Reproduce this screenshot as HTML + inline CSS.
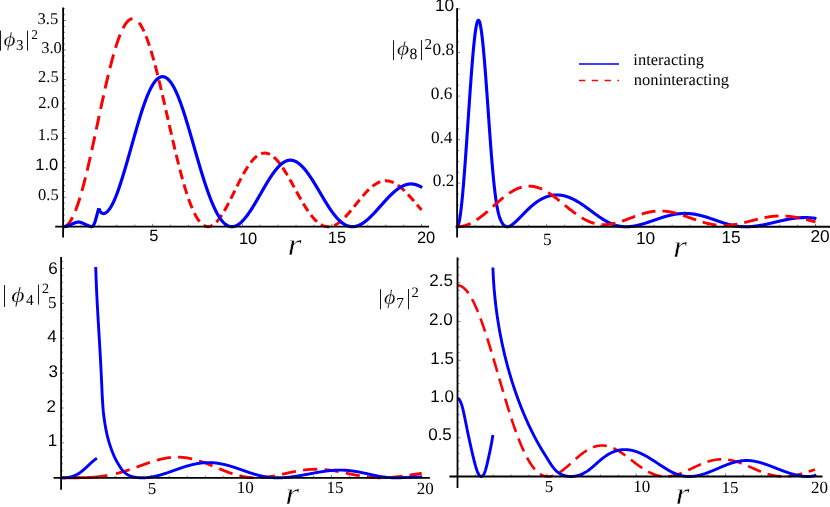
<!DOCTYPE html>
<html><head><meta charset="utf-8"><title>plot</title>
<style>
html,body{margin:0;padding:0;background:#fff;}
body{width:830px;height:507px;overflow:hidden;font-family:"Liberation Serif",serif;}
svg{display:block;will-change:transform;}
text{text-rendering:geometricPrecision;}
.s{font-family:"Liberation Sans",sans-serif;}
.t{font-family:"Liberation Serif",serif;}
.i{font-family:"Liberation Serif",serif;font-style:italic;}
</style></head><body>
<svg width="830" height="507" viewBox="0 0 830 507">

<g id="curves">
<path d="M63.10,226.70 L63.35,226.69 L63.59,226.67 L63.84,226.64 L64.09,226.59 L64.34,226.54 L64.58,226.46 L64.83,226.38 L65.08,226.28 L65.32,226.17 L65.57,226.04 L65.82,225.91 L66.07,225.76 L66.31,225.59 L66.56,225.42 L66.81,225.23 L67.05,225.02 L67.30,224.81 L67.55,224.58 L67.80,224.34 L68.04,224.09 L68.29,223.82 L68.54,223.54 L68.78,223.25 L69.03,222.94 L69.28,222.62 L69.53,222.29 L69.77,221.95 L70.02,221.60 L70.27,221.23 L70.51,220.85 L70.76,220.46 L71.01,220.05 L71.26,219.63 L71.50,219.21 L71.75,218.76 L72.00,218.31 L72.24,217.84 L72.49,217.37 L72.74,216.88 L72.99,216.38 L73.23,215.86 L73.48,215.34 L73.73,214.80 L73.97,214.25 L74.22,213.69 L74.47,213.12 L74.72,212.54 L74.96,211.95 L75.21,211.34 L75.46,210.72 L75.71,210.10 L75.95,209.46 L76.20,208.81 L76.45,208.15 L76.69,207.48 L76.94,206.80 L77.19,206.10 L77.44,205.40 L77.68,204.69 L77.93,203.96 L78.18,203.23 L78.42,202.49 L78.67,201.73 L78.92,200.97 L79.17,200.20 L79.41,199.41 L79.66,198.62 L79.91,197.82 L80.15,197.01 L80.40,196.18 L80.65,195.35 L80.90,194.51 L81.14,193.67 L81.39,192.81 L81.64,191.94 L81.88,191.07 L82.13,190.18 L82.38,189.29 L82.63,188.39 L82.87,187.48 L83.12,186.57 L83.37,185.64 L83.61,184.71 L83.86,183.77 L84.11,182.82 L84.36,181.87 L84.60,180.90 L84.85,179.93 L85.10,178.96 L85.34,177.97 L85.59,176.98 L85.84,175.98 L86.09,174.98 L86.33,173.97 L86.58,172.95 L86.83,171.92 L87.07,170.89 L87.32,169.86 L87.57,168.82 L87.82,167.77 L88.06,166.72 L88.31,165.66 L88.56,164.59 L88.80,163.52 L89.05,162.45 L89.30,161.37 L89.55,160.29 L89.79,159.20 L90.04,158.11 L90.29,157.01 L90.53,155.91 L90.78,154.80 L91.03,153.69 L91.28,152.58 L91.52,151.46 L91.77,150.34 L92.02,149.21 L92.26,148.09 L92.51,146.96 L92.76,145.82 L93.01,144.69 L93.25,143.55 L93.50,142.41 L93.75,141.26 L93.99,140.11 L94.24,138.97 L94.49,137.82 L94.74,136.66 L94.98,135.51 L95.23,134.35 L95.48,133.20 L95.72,132.04 L95.97,130.88 L96.22,129.72 L96.47,128.56 L96.71,127.40 L96.96,126.24 L97.21,125.07 L97.45,123.91 L97.70,122.75 L97.95,121.59 L98.20,120.42 L98.44,119.26 L98.69,118.10 L98.94,116.94 L99.18,115.78 L99.43,114.62 L99.68,113.46 L99.93,112.31 L100.17,111.15 L100.42,110.00 L100.67,108.85 L100.92,107.70 L101.16,106.55 L101.41,105.40 L101.66,104.26 L101.90,103.12 L102.15,101.98 L102.40,100.84 L102.65,99.71 L102.89,98.58 L103.14,97.45 L103.39,96.33 L103.63,95.21 L103.88,94.09 L104.13,92.98 L104.38,91.87 L104.62,90.76 L104.87,89.66 L105.12,88.56 L105.36,87.47 L105.61,86.38 L105.86,85.29 L106.11,84.22 L106.35,83.14 L106.60,82.07 L106.85,81.01 L107.09,79.95 L107.34,78.89 L107.59,77.85 L107.84,76.80 L108.08,75.77 L108.33,74.74 L108.58,73.71 L108.82,72.69 L109.07,71.68 L109.32,70.68 L109.57,69.68 L109.81,68.69 L110.06,67.70 L110.31,66.72 L110.55,65.75 L110.80,64.79 L111.05,63.83 L111.30,62.88 L111.54,61.94 L111.79,61.00 L112.04,60.07 L112.28,59.16 L112.53,58.24 L112.78,57.34 L113.03,56.45 L113.27,55.56 L113.52,54.68 L113.77,53.81 L114.01,52.95 L114.26,52.10 L114.51,51.25 L114.76,50.42 L115.00,49.59 L115.25,48.78 L115.50,47.97 L115.74,47.17 L115.99,46.38 L116.24,45.60 L116.49,44.84 L116.73,44.08 L116.98,43.33 L117.23,42.58 L117.47,41.85 L117.72,41.13 L117.97,40.42 L118.22,39.72 L118.46,39.03 L118.71,38.36 L118.96,37.69 L119.20,37.03 L119.45,36.38 L119.70,35.74 L119.95,35.12 L120.19,34.50 L120.44,33.90 L120.69,33.30 L120.93,32.72 L121.18,32.15 L121.43,31.59 L121.68,31.04 L121.92,30.50 L122.17,29.98 L122.42,29.46 L122.66,28.96 L122.91,28.47 L123.16,27.99 L123.41,27.52 L123.65,27.06 L123.90,26.62 L124.15,26.18 L124.39,25.76 L124.64,25.35 L124.89,24.95 L125.14,24.57 L125.38,24.19 L125.63,23.83 L125.88,23.48 L126.13,23.14 L126.37,22.82 L126.62,22.51 L126.87,22.20 L127.11,21.92 L127.36,21.64 L127.61,21.38 L127.86,21.12 L128.10,20.88 L128.35,20.66 L128.60,20.44 L128.84,20.24 L129.09,20.05 L129.34,19.87 L129.59,19.71 L129.83,19.56 L130.08,19.42 L130.33,19.29 L130.57,19.18 L130.82,19.07 L131.07,18.99 L131.32,18.91 L131.56,18.84 L131.81,18.79 L132.06,18.75 L132.30,18.73 L132.55,18.71 L132.80,18.71 L133.05,18.72 L133.29,18.74 L133.54,18.78 L133.79,18.83 L134.03,18.89 L134.28,18.96 L134.53,19.05 L134.78,19.15 L135.02,19.26 L135.27,19.38 L135.52,19.52 L135.76,19.66 L136.01,19.82 L136.26,20.00 L136.51,20.18 L136.75,20.38 L137.00,20.59" fill="none" stroke="#ff0000" stroke-width="3.0" stroke-dasharray="14 7" stroke-dashoffset="0"/>
<path d="M139.00,22.72 L139.23,23.02 L139.46,23.33 L139.69,23.65 L139.92,23.97 L140.15,24.31 L140.38,24.66 L140.62,25.02 L140.85,25.39 L141.08,25.76 L141.31,26.15 L141.54,26.55 L141.77,26.96 L142.00,27.38 L142.23,27.80 L142.46,28.24 L142.69,28.69 L142.92,29.14 L143.15,29.61 L143.38,30.08 L143.62,30.57 L143.85,31.06 L144.08,31.57 L144.31,32.08 L144.54,32.60 L144.77,33.13 L145.00,33.67 L145.23,34.22 L145.46,34.78 L145.69,35.35 L145.92,35.92 L146.15,36.51 L146.38,37.10 L146.62,37.70 L146.85,38.32 L147.08,38.93 L147.31,39.56 L147.54,40.20 L147.77,40.84 L148.00,41.49 L148.23,42.15 L148.46,42.82 L148.69,43.50 L148.92,44.18 L149.15,44.88 L149.38,45.58 L149.62,46.28 L149.85,47.00 L150.08,47.72 L150.31,48.45 L150.54,49.19 L150.77,49.93 L151.00,50.68 L151.23,51.44 L151.46,52.21 L151.69,52.98 L151.92,53.76 L152.15,54.55 L152.38,55.34 L152.62,56.14 L152.85,56.95 L153.08,57.76 L153.31,58.58 L153.54,59.40 L153.77,60.23 L154.00,61.07 L154.23,61.91 L154.46,62.76 L154.69,63.62 L154.92,64.48 L155.15,65.34 L155.38,66.21 L155.62,67.09 L155.85,67.97 L156.08,68.86 L156.31,69.75 L156.54,70.65 L156.77,71.55 L157.00,72.46 L157.23,73.37 L157.46,74.29 L157.69,75.21 L157.92,76.13 L158.15,77.06 L158.38,78.00 L158.62,78.94 L158.85,79.88 L159.08,80.82 L159.31,81.77 L159.54,82.73 L159.77,83.68 L160.00,84.64 L160.23,85.61 L160.46,86.58 L160.69,87.55 L160.92,88.52 L161.15,89.50 L161.38,90.48 L161.62,91.46 L161.85,92.44 L162.08,93.43 L162.31,94.42 L162.54,95.42 L162.77,96.41 L163.00,97.41 L163.23,98.41 L163.46,99.41 L163.69,100.41 L163.92,101.42 L164.15,102.42 L164.38,103.43 L164.62,104.44 L164.85,105.45 L165.08,106.46 L165.31,107.48 L165.54,108.49 L165.77,109.51 L166.00,110.52 L166.23,111.54 L166.46,112.56 L166.69,113.58 L166.92,114.60 L167.15,115.62 L167.38,116.64 L167.62,117.65 L167.85,118.67 L168.08,119.69 L168.31,120.71 L168.54,121.73 L168.77,122.75 L169.00,123.77 L169.23,124.79 L169.46,125.80 L169.69,126.82 L169.92,127.84 L170.15,128.85 L170.38,129.86 L170.62,130.88 L170.85,131.89 L171.08,132.90 L171.31,133.91 L171.54,134.91 L171.77,135.92 L172.00,136.92 L172.23,137.92 L172.46,138.92 L172.69,139.92 L172.92,140.92 L173.15,141.91 L173.38,142.90 L173.62,143.89 L173.85,144.87 L174.08,145.86 L174.31,146.84 L174.54,147.82 L174.77,148.79 L175.00,149.76 L175.23,150.73 L175.46,151.70 L175.69,152.66 L175.92,153.62 L176.15,154.58 L176.38,155.53 L176.62,156.48 L176.85,157.42 L177.08,158.36 L177.31,159.30 L177.54,160.24 L177.77,161.17 L178.00,162.09 L178.23,163.01 L178.46,163.93 L178.69,164.84 L178.92,165.75 L179.15,166.66 L179.38,167.56 L179.62,168.45 L179.85,169.34 L180.08,170.23 L180.31,171.11 L180.54,171.98 L180.77,172.85 L181.00,173.72 L181.23,174.58 L181.46,175.43 L181.69,176.28 L181.92,177.13 L182.15,177.97 L182.38,178.80 L182.62,179.63 L182.85,180.45 L183.08,181.26 L183.31,182.08 L183.54,182.88 L183.77,183.68 L184.00,184.47 L184.23,185.26 L184.46,186.04 L184.69,186.81 L184.92,187.58 L185.15,188.34 L185.38,189.10 L185.62,189.85 L185.85,190.59 L186.08,191.33 L186.31,192.06 L186.54,192.78 L186.77,193.50 L187.00,194.20 L187.23,194.91 L187.46,195.60 L187.69,196.29 L187.92,196.97 L188.15,197.65 L188.38,198.32 L188.62,198.98 L188.85,199.63 L189.08,200.28 L189.31,200.92 L189.54,201.55 L189.77,202.17 L190.00,202.79 L190.23,203.40 L190.46,204.01 L190.69,204.60 L190.92,205.19 L191.15,205.77 L191.38,206.34 L191.62,206.91 L191.85,207.46 L192.08,208.01 L192.31,208.56 L192.54,209.09 L192.77,209.62 L193.00,210.14 L193.23,210.65 L193.46,211.15 L193.69,211.65 L193.92,212.13 L194.15,212.61 L194.38,213.09 L194.62,213.55 L194.85,214.01 L195.08,214.45 L195.31,214.89 L195.54,215.33 L195.77,215.75 L196.00,216.17 L196.23,216.57 L196.46,216.97 L196.69,217.36 L196.92,217.75 L197.15,218.12 L197.38,218.49 L197.62,218.85 L197.85,219.20 L198.08,219.55 L198.31,219.88 L198.54,220.21 L198.77,220.53 L199.00,220.84 L199.23,221.14 L199.46,221.43 L199.69,221.72 L199.92,222.00 L200.15,222.27 L200.38,222.53 L200.62,222.78 L200.85,223.03 L201.08,223.27 L201.31,223.50 L201.54,223.72 L201.77,223.93 L202.00,224.14 L202.23,224.33 L202.46,224.52 L202.69,224.70 L202.92,224.88 L203.15,225.04 L203.38,225.20 L203.62,225.35 L203.85,225.49 L204.08,225.62 L204.31,225.75 L204.54,225.87 L204.77,225.98 L205.00,226.08 L205.23,226.17 L205.46,226.26 L205.69,226.34 L205.92,226.41 L206.15,226.47 L206.38,226.52 L206.62,226.57 L206.85,226.61 L207.08,226.65 L207.31,226.67 L207.54,226.69 L207.77,226.70 L208.00,226.70" fill="none" stroke="#ff0000" stroke-width="3.0" stroke-dasharray="10 5.3" stroke-dashoffset="0"/>
<path d="M208.00,226.70 L208.71,226.66 L209.43,226.55 L210.14,226.37 L210.86,226.13 L211.57,225.82 L212.28,225.44 L213.00,225.00 L213.71,224.50 L214.43,223.94 L215.14,223.31 L215.85,222.64 L216.57,221.90 L217.28,221.12 L218.00,220.28 L218.71,219.39 L219.42,218.45 L220.14,217.47 L220.85,216.45 L221.57,215.38 L222.28,214.27 L222.99,213.13 L223.71,211.95 L224.42,210.73 L225.14,209.49 L225.85,208.21 L226.57,206.91 L227.28,205.59 L227.99,204.24 L228.71,202.87 L229.42,201.49 L230.14,200.09 L230.85,198.67 L231.56,197.25 L232.28,195.82 L232.99,194.38 L233.71,192.93 L234.42,191.49 L235.13,190.04 L235.85,188.60 L236.56,187.16 L237.28,185.73 L237.99,184.30 L238.70,182.89 L239.42,181.49 L240.13,180.11 L240.85,178.74 L241.56,177.39 L242.27,176.07 L242.99,174.76 L243.70,173.48 L244.42,172.23 L245.13,171.00 L245.84,169.80 L246.56,168.64 L247.27,167.50 L247.99,166.41 L248.70,165.34 L249.41,164.32 L250.13,163.33 L250.84,162.38 L251.56,161.47 L252.27,160.61 L252.98,159.79 L253.70,159.01 L254.41,158.28 L255.13,157.59 L255.84,156.95 L256.56,156.36 L257.27,155.81 L257.98,155.32 L258.70,154.87 L259.41,154.47 L260.13,154.13 L260.84,153.83 L261.55,153.58 L262.27,153.39 L262.98,153.24 L263.70,153.15 L264.41,153.10 L265.12,153.11 L265.84,153.17 L266.55,153.28 L267.27,153.44 L267.98,153.65 L268.69,153.90 L269.41,154.21 L270.12,154.56 L270.84,154.96 L271.55,155.41 L272.26,155.91 L272.98,156.44 L273.69,157.03 L274.41,157.66 L275.12,158.32 L275.83,159.04 L276.55,159.79 L277.26,160.58 L277.98,161.41 L278.69,162.27 L279.40,163.17 L280.12,164.11 L280.83,165.08 L281.55,166.08 L282.26,167.10 L282.97,168.16 L283.69,169.25 L284.40,170.36 L285.12,171.50 L285.83,172.65 L286.55,173.83 L287.26,175.03 L287.97,176.25 L288.69,177.48 L289.40,178.73 L290.12,179.99 L290.83,181.26 L291.54,182.54 L292.26,183.83 L292.97,185.13 L293.69,186.43 L294.40,187.73 L295.11,189.03 L295.83,190.34 L296.54,191.64 L297.26,192.94 L297.97,194.23 L298.68,195.51 L299.40,196.79 L300.11,198.06 L300.83,199.31 L301.54,200.56 L302.25,201.78 L302.97,202.99 L303.68,204.19 L304.40,205.36 L305.11,206.52 L305.82,207.65 L306.54,208.76 L307.25,209.84 L307.97,210.90 L308.68,211.94 L309.39,212.94 L310.11,213.92 L310.82,214.86 L311.54,215.78 L312.25,216.66 L312.96,217.51 L313.68,218.33 L314.39,219.11 L315.11,219.86 L315.82,220.57 L316.54,221.24 L317.25,221.88 L317.96,222.48 L318.68,223.04 L319.39,223.56 L320.11,224.04 L320.82,224.48 L321.53,224.88 L322.25,225.25 L322.96,225.57 L323.68,225.85 L324.39,226.09 L325.10,226.29 L325.82,226.45 L326.53,226.57 L327.25,226.65 L327.96,226.69 L328.67,226.70 L329.39,226.66 L330.10,226.58 L330.82,226.46 L331.53,226.31 L332.24,226.12 L332.96,225.89 L333.67,225.62 L334.39,225.32 L335.10,224.99 L335.81,224.62 L336.53,224.22 L337.24,223.78 L337.96,223.31 L338.67,222.81 L339.38,222.28 L340.10,221.73 L340.81,221.14 L341.53,220.53 L342.24,219.89 L342.95,219.23 L343.67,218.55 L344.38,217.84 L345.10,217.11 L345.81,216.36 L346.53,215.59 L347.24,214.81 L347.95,214.01 L348.67,213.19 L349.38,212.36 L350.10,211.52 L350.81,210.67 L351.52,209.81 L352.24,208.93 L352.95,208.06 L353.67,207.17 L354.38,206.29 L355.09,205.40 L355.81,204.51 L356.52,203.62 L357.24,202.73 L357.95,201.84 L358.66,200.95 L359.38,200.07 L360.09,199.20 L360.81,198.34 L361.52,197.48 L362.23,196.64 L362.95,195.80 L363.66,194.98 L364.38,194.17 L365.09,193.38 L365.80,192.60 L366.52,191.84 L367.23,191.10 L367.95,190.38 L368.66,189.67 L369.37,188.99 L370.09,188.33 L370.80,187.70 L371.52,187.08 L372.23,186.50 L372.94,185.93 L373.66,185.40 L374.37,184.89 L375.09,184.41 L375.80,183.95 L376.52,183.53 L377.23,183.13 L377.94,182.77 L378.66,182.43 L379.37,182.13 L380.09,181.85 L380.80,181.61 L381.51,181.40 L382.23,181.22 L382.94,181.08 L383.66,180.96 L384.37,180.88 L385.08,180.83 L385.80,180.81 L386.51,180.83 L387.23,180.88 L387.94,180.96 L388.65,181.07 L389.37,181.21 L390.08,181.38 L390.80,181.59 L391.51,181.82 L392.22,182.09 L392.94,182.39 L393.65,182.71 L394.37,183.07 L395.08,183.45 L395.79,183.86 L396.51,184.30 L397.22,184.76 L397.94,185.25 L398.65,185.77 L399.36,186.31 L400.08,186.87 L400.79,187.46 L401.51,188.06 L402.22,188.69 L402.93,189.34 L403.65,190.01 L404.36,190.70 L405.08,191.40 L405.79,192.12 L406.51,192.85 L407.22,193.60 L407.93,194.36 L408.65,195.14 L409.36,195.92 L410.08,196.72 L410.79,197.52 L411.50,198.33 L412.22,199.15 L412.93,199.97 L413.65,200.80 L414.36,201.63 L415.07,202.47 L415.79,203.30 L416.50,204.14 L417.22,204.97 L417.93,205.80 L418.64,206.63 L419.36,207.45 L420.07,208.27 L420.79,209.08 L421.50,209.88" fill="none" stroke="#ff0000" stroke-width="3.0" stroke-dasharray="9 4.8" stroke-dashoffset="4"/>
<path d="M63.10,226.70 L63.50,226.69 L63.90,226.68 L64.30,226.65 L64.70,226.61 L65.10,226.56 L65.50,226.50 L65.90,226.43 L66.30,226.34 L66.70,226.24 L67.10,226.13 L67.50,226.02 L67.90,225.88 L68.30,225.74 L68.70,225.59 L69.10,225.44 L69.50,225.27 L69.90,225.10 L70.30,224.92 L70.70,224.73 L71.10,224.55 L71.50,224.36 L71.90,224.17 L72.30,223.98 L72.70,223.79 L73.10,223.60 L73.50,223.42 L73.90,223.24 L74.30,223.07 L74.70,222.91 L75.10,222.76 L75.50,222.62 L75.90,222.50 L76.30,222.39 L76.70,222.29 L77.10,222.21 L77.50,222.15 L77.90,222.11 L78.30,222.09 L78.70,222.09 L79.10,222.11 L79.50,222.15 L79.90,222.22 L80.30,222.31 L80.70,222.42 L81.10,222.54 L81.50,222.68 L81.90,222.84 L82.30,223.00 L82.70,223.18 L83.10,223.36 L83.50,223.55 L83.90,223.74 L84.30,223.93 L84.70,224.11 L85.10,224.30 L85.50,224.48 L85.90,224.66 L86.30,224.83 L86.70,224.99 L87.10,225.16 L87.50,225.32 L87.90,225.49 L88.30,225.66 L88.70,225.83 L89.10,226.01 L89.50,226.18 L89.90,226.34 L90.30,226.49 L90.70,226.60 L91.10,226.68 L91.50,226.70 L91.90,226.63 L92.30,226.47 L92.70,226.19 L93.10,225.77 L93.50,225.21 L93.90,224.50 L94.30,223.64 L94.70,222.63 L95.10,221.47 L95.50,220.20 L95.90,218.82 L96.30,217.36 L96.70,215.85 L97.10,214.33 L97.50,212.82 L97.90,211.38 L98.30,210.03 L98.70,208.83 L98.90,208.30" fill="none" stroke="#0000ff" stroke-width="3.2" stroke-linejoin="round"/>
<path d="M98.90,208.53 L99.30,209.54 L99.70,210.41 L100.10,211.14 L100.50,211.75 L100.90,212.26 L101.30,212.67 L101.70,212.99 L102.10,213.23 L102.50,213.40 L102.90,213.51 L103.30,213.55 L103.70,213.54 L104.10,213.48 L104.50,213.36 L104.90,213.21 L105.30,213.01 L105.70,212.77 L106.10,212.50 L106.50,212.20 L106.90,211.86 L107.30,211.50 L107.70,211.10 L108.10,210.68 L108.50,210.23 L108.90,209.74 L109.30,209.23 L109.70,208.69 L110.10,208.11 L110.50,207.51 L110.90,206.88 L111.30,206.21 L111.70,205.52 L112.10,204.80 L112.50,204.05 L112.90,203.26 L113.30,202.45 L113.70,201.61 L114.10,200.74 L114.50,199.84 L114.90,198.92 L115.30,197.97 L115.70,196.99 L116.10,195.98 L116.50,194.95 L116.90,193.90 L117.30,192.82 L117.70,191.72 L118.10,190.60 L118.50,189.46 L118.90,188.30 L119.30,187.12 L119.70,185.93 L120.10,184.72 L120.50,183.50 L120.90,182.26 L121.30,181.02 L121.70,179.76 L122.10,178.49 L122.50,177.21 L122.90,175.92 L123.30,174.61 L123.70,173.30 L124.10,171.98 L124.50,170.64 L124.90,169.30 L125.30,167.95 L125.70,166.59 L126.10,165.23 L126.50,163.86 L126.90,162.48 L127.30,161.09 L127.70,159.70 L128.10,158.31 L128.50,156.91 L128.90,155.50 L129.30,154.09 L129.70,152.68 L130.10,151.27 L130.50,149.85 L130.90,148.43 L131.30,147.01 L131.70,145.59 L132.10,144.17 L132.50,142.75 L132.90,141.33 L133.30,139.92 L133.70,138.50 L134.10,137.09 L134.50,135.68 L134.90,134.28 L135.30,132.88 L135.70,131.48 L136.10,130.10 L136.50,128.71 L136.90,127.34 L137.30,125.97 L137.70,124.61 L138.10,123.26 L138.50,121.91 L138.90,120.58 L139.30,119.26 L139.70,117.95 L140.10,116.65 L140.50,115.36 L140.90,114.08 L141.30,112.82 L141.70,111.57 L142.10,110.34 L142.50,109.12 L142.90,107.92 L143.30,106.74 L143.70,105.57 L144.10,104.42 L144.50,103.28 L144.90,102.17 L145.30,101.08 L145.70,100.00 L146.10,98.95 L146.50,97.92 L146.90,96.91 L147.30,95.92 L147.70,94.95 L148.10,94.01 L148.50,93.09 L148.90,92.19 L149.30,91.31 L149.70,90.46 L150.10,89.63 L150.50,88.83 L150.90,88.05 L151.30,87.29 L151.70,86.56 L152.10,85.86 L152.50,85.17 L152.90,84.52 L153.30,83.89 L153.70,83.28 L154.10,82.70 L154.50,82.15 L154.90,81.62 L155.30,81.12 L155.70,80.64 L156.10,80.19 L156.50,79.77 L156.90,79.38 L157.30,79.01 L157.70,78.66 L158.10,78.35 L158.50,78.06 L158.90,77.80 L159.30,77.56 L159.70,77.35 L160.10,77.17 L160.50,77.02 L160.90,76.89 L161.30,76.79 L161.70,76.72 L162.10,76.68 L162.50,76.66 L162.90,76.67 L163.30,76.71 L163.70,76.77 L164.10,76.87 L164.50,76.98 L164.90,77.13 L165.30,77.30 L165.70,77.50 L166.10,77.73 L166.50,77.99 L166.90,78.27 L167.30,78.57 L167.70,78.91 L168.10,79.27 L168.50,79.66 L168.90,80.07 L169.30,80.51 L169.70,80.98 L170.10,81.47 L170.50,81.99 L170.90,82.53 L171.30,83.10 L171.70,83.69 L172.10,84.31 L172.50,84.96 L172.90,85.62 L173.30,86.32 L173.70,87.04 L174.10,87.78 L174.50,88.54 L174.90,89.33 L175.30,90.15 L175.70,90.98 L176.10,91.84 L176.50,92.72 L176.90,93.63 L177.30,94.55 L177.70,95.50 L178.10,96.47 L178.50,97.47 L178.90,98.48 L179.30,99.51 L179.70,100.56 L180.10,101.63 L180.50,102.72 L180.90,103.83 L181.30,104.95 L181.70,106.09 L182.10,107.25 L182.50,108.43 L182.90,109.61 L183.30,110.82 L183.70,112.04 L184.10,113.27 L184.50,114.51 L184.90,115.77 L185.30,117.04 L185.70,118.32 L186.10,119.61 L186.50,120.91 L186.90,122.22 L187.30,123.54 L187.70,124.87 L188.10,126.21 L188.50,127.56 L188.90,128.91 L189.30,130.27 L189.70,131.63 L190.10,133.01 L190.50,134.38 L190.90,135.76 L191.30,137.14 L191.70,138.53 L192.10,139.92 L192.50,141.31 L192.90,142.71 L193.30,144.10 L193.70,145.50 L194.10,146.90 L194.50,148.29 L194.90,149.69 L195.30,151.08 L195.70,152.48 L196.10,153.87 L196.50,155.26 L196.90,156.64 L197.30,158.02 L197.70,159.40 L198.10,160.77 L198.50,162.14 L198.90,163.50 L199.30,164.86 L199.70,166.21 L200.10,167.55 L200.50,168.89 L200.90,170.21 L201.30,171.53 L201.70,172.85 L202.10,174.15 L202.50,175.44 L202.90,176.73 L203.30,178.00 L203.70,179.26 L204.10,180.52 L204.50,181.76 L204.90,182.99 L205.30,184.20 L205.70,185.41 L206.10,186.60 L206.50,187.78 L206.90,188.95 L207.30,190.10 L207.70,191.24 L208.10,192.36 L208.50,193.47 L208.90,194.57 L209.30,195.65 L209.70,196.71 L210.10,197.76 L210.50,198.79 L210.90,199.81 L211.30,200.81 L211.70,201.79 L212.10,202.76 L212.50,203.71 L212.90,204.64 L213.30,205.55 L213.70,206.45 L214.10,207.33 L214.50,208.19 L214.90,209.03 L215.30,209.86 L215.70,210.66 L216.10,211.45 L216.50,212.21 L216.90,212.96 L217.30,213.69 L217.70,214.40 L218.10,215.09 L218.50,215.76 L218.90,216.41 L219.30,217.04 L219.70,217.65 L220.10,218.24 L220.50,218.81 L220.90,219.36 L221.30,219.89 L221.70,220.41 L222.10,220.90 L222.50,221.37 L222.90,221.82 L223.30,222.25 L223.70,222.66 L224.10,223.05 L224.50,223.42 L224.90,223.77 L225.30,224.10 L225.70,224.40 L226.10,224.69 L226.50,224.96 L226.90,225.21 L227.30,225.44 L227.70,225.65 L228.10,225.84 L228.50,226.02 L228.90,226.17 L229.30,226.30 L229.70,226.41 L230.10,226.51 L230.50,226.58 L230.90,226.64 L231.30,226.68 L231.70,226.70 L232.10,226.70 L232.50,226.68 L232.90,226.65 L233.30,226.60 L233.70,226.53 L234.10,226.44 L234.50,226.33 L234.90,226.21 L235.30,226.08 L235.70,225.92 L236.10,225.75 L236.50,225.56 L236.90,225.36 L237.30,225.14 L237.70,224.91 L238.10,224.66 L238.50,224.40 L238.90,224.12 L239.30,223.82 L239.70,223.52 L240.10,223.19 L240.50,222.86 L240.90,222.51 L241.30,222.15 L241.70,221.77 L242.10,221.38 L242.50,220.98 L242.90,220.56 L243.30,220.14 L243.70,219.70 L244.10,219.25 L244.50,218.79 L244.90,218.31 L245.30,217.83 L245.70,217.33 L246.10,216.83 L246.50,216.31 L246.90,215.79 L247.30,215.25 L247.70,214.71 L248.10,214.15 L248.50,213.59 L248.90,213.02 L249.30,212.44 L249.70,211.85 L250.10,211.26 L250.50,210.65 L250.90,210.04 L251.30,209.43 L251.70,208.80 L252.10,208.17 L252.50,207.54 L252.90,206.90 L253.30,206.25 L253.70,205.60 L254.10,204.94 L254.50,204.28 L254.90,203.61 L255.30,202.94 L255.70,202.26 L256.10,201.58 L256.50,200.90 L256.90,200.22 L257.30,199.53 L257.70,198.84 L258.10,198.15 L258.50,197.46 L258.90,196.76 L259.30,196.07 L259.70,195.37 L260.10,194.67 L260.50,193.97 L260.90,193.27 L261.30,192.58 L261.70,191.88 L262.10,191.18 L262.50,190.49 L262.90,189.79 L263.30,189.10 L263.70,188.41 L264.10,187.72 L264.50,187.03 L264.90,186.35 L265.30,185.67 L265.70,184.99 L266.10,184.32 L266.50,183.65 L266.90,182.99 L267.30,182.33 L267.70,181.67 L268.10,181.02 L268.50,180.38 L268.90,179.74 L269.30,179.10 L269.70,178.47 L270.10,177.85 L270.50,177.24 L270.90,176.63 L271.30,176.03 L271.70,175.44 L272.10,174.85 L272.50,174.27 L272.90,173.71 L273.30,173.14 L273.70,172.59 L274.10,172.05 L274.50,171.52 L274.90,170.99 L275.30,170.48 L275.70,169.97 L276.10,169.48 L276.50,168.99 L276.90,168.52 L277.30,168.06 L277.70,167.61 L278.10,167.17 L278.50,166.74 L278.90,166.32 L279.30,165.92 L279.70,165.52 L280.10,165.14 L280.50,164.78 L280.90,164.42 L281.30,164.08 L281.70,163.75 L282.10,163.43 L282.50,163.13 L282.90,162.84 L283.30,162.57 L283.70,162.31 L284.10,162.06 L284.50,161.83 L284.90,161.61 L285.30,161.41 L285.70,161.22 L286.10,161.05 L286.50,160.89 L286.90,160.75 L287.30,160.62 L287.70,160.51 L288.10,160.41 L288.50,160.33 L288.90,160.27 L289.30,160.22 L289.70,160.18 L290.10,160.17 L290.50,160.16 L290.90,160.18 L291.30,160.21 L291.70,160.25 L292.10,160.31 L292.50,160.39 L292.90,160.48 L293.30,160.58 L293.70,160.71 L294.10,160.84 L294.50,160.99 L294.90,161.16 L295.30,161.34 L295.70,161.53 L296.10,161.74 L296.50,161.96 L296.90,162.19 L297.30,162.44 L297.70,162.71 L298.10,162.98 L298.50,163.27 L298.90,163.57 L299.30,163.89 L299.70,164.22 L300.10,164.56 L300.50,164.91 L300.90,165.28 L301.30,165.65 L301.70,166.04 L302.10,166.44 L302.50,166.85 L302.90,167.28 L303.30,167.71 L303.70,168.15 L304.10,168.61 L304.50,169.08 L304.90,169.55 L305.30,170.04 L305.70,170.53 L306.10,171.04 L306.50,171.55 L306.90,172.07 L307.30,172.60 L307.70,173.14 L308.10,173.69 L308.50,174.25 L308.90,174.81 L309.30,175.38 L309.70,175.96 L310.10,176.55 L310.50,177.14 L310.90,177.74 L311.30,178.34 L311.70,178.95 L312.10,179.57 L312.50,180.19 L312.90,180.82 L313.30,181.45 L313.70,182.09 L314.10,182.73 L314.50,183.38 L314.90,184.03 L315.30,184.68 L315.70,185.34 L316.10,186.00 L316.50,186.67 L316.90,187.33 L317.30,188.00 L317.70,188.67 L318.10,189.35 L318.50,190.02 L318.90,190.70 L319.30,191.37 L319.70,192.05 L320.10,192.73 L320.50,193.41 L320.90,194.08 L321.30,194.76 L321.70,195.44 L322.10,196.12 L322.50,196.79 L322.90,197.47 L323.30,198.14 L323.70,198.81 L324.10,199.47 L324.50,200.14 L324.90,200.80 L325.30,201.46 L325.70,202.11 L326.10,202.76 L326.50,203.41 L326.90,204.05 L327.30,204.69 L327.70,205.32 L328.10,205.94 L328.50,206.56 L328.90,207.18 L329.30,207.79 L329.70,208.39 L330.10,208.99 L330.50,209.58 L330.90,210.16 L331.30,210.73 L331.70,211.30 L332.10,211.86 L332.50,212.41 L332.90,212.95 L333.30,213.49 L333.70,214.01 L334.10,214.53 L334.50,215.04 L334.90,215.54 L335.30,216.03 L335.70,216.51 L336.10,216.98 L336.50,217.44 L336.90,217.89 L337.30,218.33 L337.70,218.77 L338.10,219.19 L338.50,219.60 L338.90,219.99 L339.30,220.38 L339.70,220.76 L340.10,221.13 L340.50,221.48 L340.90,221.83 L341.30,222.16 L341.70,222.48 L342.10,222.79 L342.50,223.09 L342.90,223.38 L343.30,223.65 L343.70,223.91 L344.10,224.17 L344.50,224.40 L344.90,224.63 L345.30,224.85 L345.70,225.05 L346.10,225.24 L346.50,225.42 L346.90,225.59 L347.30,225.75 L347.70,225.89 L348.10,226.02 L348.50,226.15 L348.90,226.25 L349.30,226.35 L349.70,226.43 L350.10,226.51 L350.50,226.57 L350.90,226.62 L351.30,226.66 L351.70,226.68 L352.10,226.70 L352.50,226.70 L352.90,226.69 L353.30,226.67 L353.70,226.64 L354.10,226.60 L354.50,226.55 L354.90,226.48 L355.30,226.41 L355.70,226.32 L356.10,226.23 L356.50,226.12 L356.90,226.01 L357.30,225.88 L357.70,225.74 L358.10,225.60 L358.50,225.44 L358.90,225.27 L359.30,225.10 L359.70,224.91 L360.10,224.71 L360.50,224.51 L360.90,224.30 L361.30,224.07 L361.70,223.84 L362.10,223.60 L362.50,223.35 L362.90,223.10 L363.30,222.83 L363.70,222.56 L364.10,222.28 L364.50,221.99 L364.90,221.69 L365.30,221.39 L365.70,221.08 L366.10,220.76 L366.50,220.43 L366.90,220.10 L367.30,219.76 L367.70,219.42 L368.10,219.06 L368.50,218.71 L368.90,218.34 L369.30,217.97 L369.70,217.60 L370.10,217.22 L370.50,216.83 L370.90,216.44 L371.30,216.05 L371.70,215.65 L372.10,215.24 L372.50,214.83 L372.90,214.42 L373.30,214.00 L373.70,213.58 L374.10,213.16 L374.50,212.73 L374.90,212.30 L375.30,211.87 L375.70,211.44 L376.10,211.00 L376.50,210.56 L376.90,210.12 L377.30,209.67 L377.70,209.23 L378.10,208.78 L378.50,208.33 L378.90,207.88 L379.30,207.43 L379.70,206.98 L380.10,206.53 L380.50,206.08 L380.90,205.63 L381.30,205.17 L381.70,204.72 L382.10,204.27 L382.50,203.82 L382.90,203.38 L383.30,202.93 L383.70,202.48 L384.10,202.04 L384.50,201.60 L384.90,201.16 L385.30,200.72 L385.70,200.28 L386.10,199.85 L386.50,199.42 L386.90,198.99 L387.30,198.56 L387.70,198.14 L388.10,197.72 L388.50,197.31 L388.90,196.89 L389.30,196.49 L389.70,196.08 L390.10,195.68 L390.50,195.29 L390.90,194.90 L391.30,194.51 L391.70,194.13 L392.10,193.75 L392.50,193.38 L392.90,193.01 L393.30,192.65 L393.70,192.29 L394.10,191.94 L394.50,191.60 L394.90,191.26 L395.30,190.93 L395.70,190.60 L396.10,190.28 L396.50,189.97 L396.90,189.66 L397.30,189.36 L397.70,189.07 L398.10,188.78 L398.50,188.50 L398.90,188.23 L399.30,187.97 L399.70,187.71 L400.10,187.46 L400.50,187.22 L400.90,186.99 L401.30,186.76 L401.70,186.54 L402.10,186.33 L402.50,186.13 L402.90,185.94 L403.30,185.75 L403.70,185.58 L404.10,185.41 L404.50,185.25 L404.90,185.10 L405.30,184.96 L405.70,184.83 L406.10,184.71 L406.50,184.59 L406.90,184.49 L407.30,184.39 L407.70,184.31 L408.10,184.23 L408.50,184.16 L408.90,184.11 L409.30,184.06 L409.70,184.02 L410.10,183.99 L410.50,183.97 L410.90,183.96 L411.30,183.96 L411.70,183.97 L412.10,183.99 L412.50,184.02 L412.90,184.06 L413.30,184.11 L413.70,184.17 L414.10,184.24 L414.50,184.32 L414.90,184.41 L415.30,184.51 L415.70,184.62 L416.10,184.74 L416.50,184.86 L416.90,185.00 L417.30,185.15 L417.70,185.31 L418.10,185.48 L418.50,185.66 L418.90,185.85 L419.30,186.04 L419.70,186.25 L420.10,186.47 L420.50,186.70 L420.90,186.93 L421.30,187.18 L421.70,187.43 L422.10,187.70 L422.10,187.70" fill="none" stroke="#0000ff" stroke-width="3.2" stroke-linejoin="round"/>
<path d="M457.10,226.75 L457.50,226.54 L457.90,225.96 L458.30,225.00 L458.70,223.69 L459.10,222.03 L459.50,220.03 L459.90,217.70 L460.30,215.05 L460.70,212.10 L461.10,208.87 L461.50,205.35 L461.90,201.57 L462.30,197.54 L462.70,193.27 L463.10,188.78 L463.50,184.09 L463.90,179.20 L464.30,174.14 L464.70,168.92 L465.10,163.56 L465.50,158.07 L465.90,152.48 L466.30,146.79 L466.70,141.02 L467.10,135.20 L467.50,129.34 L467.90,123.45 L468.30,117.56 L468.70,111.68 L469.10,105.83 L469.50,100.03 L469.90,94.29 L470.30,88.64 L470.70,83.08 L471.10,77.64 L471.50,72.34 L471.90,67.19 L472.30,62.21 L472.70,57.42 L473.10,52.85 L473.50,48.50 L473.90,44.40 L474.30,40.57 L474.70,37.02 L475.10,33.76 L475.50,30.83 L475.90,28.22 L476.30,25.96 L476.70,24.06 L477.10,22.53 L477.50,21.38 L477.90,20.63 L478.30,20.29 L478.70,20.36 L479.10,20.85 L479.50,21.74 L479.90,23.03 L480.30,24.71 L480.70,26.75 L481.10,29.15 L481.50,31.88 L481.90,34.93 L482.30,38.29 L482.70,41.94 L483.10,45.85 L483.50,50.02 L483.90,54.41 L484.30,59.02 L484.70,63.82 L485.10,68.80 L485.50,73.93 L485.90,79.19 L486.30,84.57 L486.70,90.05 L487.10,95.60 L487.50,101.21 L487.90,106.86 L488.30,112.53 L488.70,118.20 L489.10,123.85 L489.50,129.46 L489.90,135.00 L490.30,140.45 L490.70,145.79 L491.10,151.00 L491.50,156.08 L491.90,161.00 L492.30,165.74 L492.70,170.31 L493.10,174.69 L493.50,178.86 L493.90,182.84 L494.30,186.60 L494.70,190.15 L495.10,193.48 L495.50,196.60 L495.90,199.51 L496.30,202.21 L496.70,204.69 L497.10,206.98 L497.50,209.07 L497.90,210.97 L498.30,212.69 L498.70,214.25 L499.10,215.67 L499.50,216.96 L499.90,218.13 L500.30,219.20 L500.70,220.16 L501.10,221.03 L501.50,221.82 L501.90,222.54 L502.30,223.19 L502.70,223.77 L503.10,224.30 L503.50,224.77 L503.90,225.18 L504.30,225.55 L504.70,225.87 L505.10,226.13 L505.50,226.35 L505.90,226.52 L506.30,226.64 L506.70,226.72 L507.10,226.75 L507.50,226.74 L507.90,226.70 L508.30,226.62 L508.70,226.51 L509.10,226.38 L509.50,226.22 L509.90,226.04 L510.30,225.83 L510.70,225.61 L511.10,225.37 L511.50,225.11 L511.90,224.84 L512.30,224.55 L512.70,224.26 L513.10,223.95 L513.50,223.63 L513.90,223.30 L514.30,222.97 L514.70,222.62 L515.10,222.27 L515.50,221.91 L515.90,221.54 L516.30,221.17 L516.70,220.79 L517.10,220.40 L517.50,220.01 L517.90,219.62 L518.30,219.22 L518.70,218.82 L519.10,218.42 L519.50,218.01 L519.90,217.60 L520.30,217.19 L520.70,216.78 L521.10,216.37 L521.50,215.96 L521.90,215.55 L522.30,215.13 L522.70,214.72 L523.10,214.31 L523.50,213.90 L523.90,213.49 L524.30,213.08 L524.70,212.68 L525.10,212.27 L525.50,211.87 L525.90,211.47 L526.30,211.07 L526.70,210.67 L527.10,210.28 L527.50,209.89 L527.90,209.50 L528.30,209.12 L528.70,208.74 L529.10,208.36 L529.50,207.99 L529.90,207.62 L530.30,207.25 L530.70,206.89 L531.10,206.54 L531.50,206.19 L531.90,205.84 L532.30,205.50 L532.70,205.16 L533.10,204.83 L533.50,204.50 L533.90,204.17 L534.30,203.86 L534.70,203.55 L535.10,203.24 L535.50,202.94 L535.90,202.64 L536.30,202.35 L536.70,202.07 L537.10,201.79 L537.50,201.51 L537.90,201.24 L538.30,200.98 L538.70,200.73 L539.10,200.47 L539.50,200.23 L539.90,199.99 L540.30,199.76 L540.70,199.53 L541.10,199.30 L541.50,199.09 L541.90,198.88 L542.30,198.67 L542.70,198.47 L543.10,198.28 L543.50,198.09 L543.90,197.90 L544.30,197.73 L544.70,197.55 L545.10,197.39 L545.50,197.22 L545.90,197.07 L546.30,196.92 L546.70,196.77 L547.10,196.63 L547.50,196.50 L547.90,196.37 L548.30,196.24 L548.70,196.13 L549.10,196.01 L549.50,195.91 L549.90,195.80 L550.30,195.71 L550.70,195.62 L551.10,195.53 L551.50,195.45 L551.90,195.38 L552.30,195.31 L552.70,195.25 L553.10,195.19 L553.50,195.14 L553.90,195.10 L554.30,195.06 L554.70,195.02 L555.10,194.99 L555.50,194.97 L555.90,194.95 L556.30,194.94 L556.70,194.94 L557.10,194.94 L557.50,194.94 L557.90,194.95 L558.30,194.97 L558.70,194.99 L559.10,195.02 L559.50,195.05 L559.90,195.09 L560.30,195.13 L560.70,195.18 L561.10,195.23 L561.50,195.29 L561.90,195.36 L562.30,195.43 L562.70,195.50 L563.10,195.58 L563.50,195.67 L563.90,195.76 L564.30,195.86 L564.70,195.96 L565.10,196.06 L565.50,196.17 L565.90,196.29 L566.30,196.41 L566.70,196.54 L567.10,196.67 L567.50,196.80 L567.90,196.94 L568.30,197.09 L568.70,197.23 L569.10,197.39 L569.50,197.55 L569.90,197.71 L570.30,197.88 L570.70,198.05 L571.10,198.22 L571.50,198.40 L571.90,198.59 L572.30,198.77 L572.70,198.97 L573.10,199.16 L573.50,199.36 L573.90,199.57 L574.30,199.77 L574.70,199.98 L575.10,200.20 L575.50,200.42 L575.90,200.64 L576.30,200.86 L576.70,201.09 L577.10,201.33 L577.50,201.56 L577.90,201.80 L578.30,202.04 L578.70,202.29 L579.10,202.53 L579.50,202.78 L579.90,203.04 L580.30,203.29 L580.70,203.55 L581.10,203.81 L581.50,204.08 L581.90,204.34 L582.30,204.61 L582.70,204.88 L583.10,205.15 L583.50,205.43 L583.90,205.70 L584.30,205.98 L584.70,206.26 L585.10,206.54 L585.50,206.83 L585.90,207.11 L586.30,207.40 L586.70,207.69 L587.10,207.98 L587.50,208.27 L587.90,208.56 L588.30,208.85 L588.70,209.14 L589.10,209.44 L589.50,209.73 L589.90,210.03 L590.30,210.32 L590.70,210.62 L591.10,210.92 L591.50,211.21 L591.90,211.51 L592.30,211.81 L592.70,212.11 L593.10,212.40 L593.50,212.70 L593.90,212.99 L594.30,213.29 L594.70,213.58 L595.10,213.88 L595.50,214.17 L595.90,214.46 L596.30,214.75 L596.70,215.04 L597.10,215.32 L597.50,215.61 L597.90,215.89 L598.30,216.17 L598.70,216.45 L599.10,216.73 L599.50,217.00 L599.90,217.28 L600.30,217.55 L600.70,217.81 L601.10,218.08 L601.50,218.34 L601.90,218.60 L602.30,218.86 L602.70,219.11 L603.10,219.36 L603.50,219.61 L603.90,219.85 L604.30,220.09 L604.70,220.33 L605.10,220.56 L605.50,220.79 L605.90,221.02 L606.30,221.24 L606.70,221.46 L607.10,221.67 L607.50,221.88 L607.90,222.09 L608.30,222.29 L608.70,222.49 L609.10,222.69 L609.50,222.88 L609.90,223.06 L610.30,223.24 L610.70,223.42 L611.10,223.59 L611.50,223.76 L611.90,223.93 L612.30,224.08 L612.70,224.24 L613.10,224.39 L613.50,224.54 L613.90,224.68 L614.30,224.81 L614.70,224.94 L615.10,225.07 L615.50,225.19 L615.90,225.31 L616.30,225.42 L616.70,225.53 L617.10,225.64 L617.50,225.73 L617.90,225.83 L618.30,225.92 L618.70,226.00 L619.10,226.08 L619.50,226.16 L619.90,226.23 L620.30,226.29 L620.70,226.36 L621.10,226.41 L621.50,226.47 L621.90,226.51 L622.30,226.56 L622.70,226.59 L623.10,226.63 L623.50,226.66 L623.90,226.68 L624.30,226.71 L624.70,226.72 L625.10,226.74 L625.50,226.74 L625.90,226.75 L626.30,226.75 L626.70,226.75 L627.10,226.74 L627.50,226.73 L627.90,226.71 L628.30,226.69 L628.70,226.67 L629.10,226.64 L629.50,226.61 L629.90,226.58 L630.30,226.54 L630.70,226.50 L631.10,226.46 L631.50,226.41 L631.90,226.36 L632.30,226.31 L632.70,226.25 L633.10,226.19 L633.50,226.13 L633.90,226.06 L634.30,225.99 L634.70,225.92 L635.10,225.85 L635.50,225.77 L635.90,225.69 L636.30,225.61 L636.70,225.52 L637.10,225.43 L637.50,225.34 L637.90,225.25 L638.30,225.16 L638.70,225.06 L639.10,224.96 L639.50,224.86 L639.90,224.76 L640.30,224.65 L640.70,224.54 L641.10,224.43 L641.50,224.32 L641.90,224.21 L642.30,224.09 L642.70,223.98 L643.10,223.86 L643.50,223.74 L643.90,223.62 L644.30,223.50 L644.70,223.37 L645.10,223.25 L645.50,223.12 L645.90,222.99 L646.30,222.87 L646.70,222.74 L647.10,222.61 L647.50,222.47 L647.90,222.34 L648.30,222.21 L648.70,222.07 L649.10,221.94 L649.50,221.80 L649.90,221.67 L650.30,221.53 L650.70,221.39 L651.10,221.26 L651.50,221.12 L651.90,220.98 L652.30,220.84 L652.70,220.70 L653.10,220.57 L653.50,220.43 L653.90,220.29 L654.30,220.15 L654.70,220.01 L655.10,219.87 L655.50,219.73 L655.90,219.60 L656.30,219.46 L656.70,219.32 L657.10,219.18 L657.50,219.05 L657.90,218.91 L658.30,218.78 L658.70,218.64 L659.10,218.51 L659.50,218.37 L659.90,218.24 L660.30,218.11 L660.70,217.98 L661.10,217.85 L661.50,217.72 L661.90,217.59 L662.30,217.47 L662.70,217.34 L663.10,217.22 L663.50,217.09 L663.90,216.97 L664.30,216.85 L664.70,216.73 L665.10,216.61 L665.50,216.50 L665.90,216.38 L666.30,216.27 L666.70,216.16 L667.10,216.05 L667.50,215.94 L667.90,215.83 L668.30,215.73 L668.70,215.63 L669.10,215.53 L669.50,215.43 L669.90,215.33 L670.30,215.23 L670.70,215.14 L671.10,215.05 L671.50,214.96 L671.90,214.87 L672.30,214.79 L672.70,214.71 L673.10,214.63 L673.50,214.55 L673.90,214.47 L674.30,214.40 L674.70,214.33 L675.10,214.26 L675.50,214.20 L675.90,214.13 L676.30,214.07 L676.70,214.01 L677.10,213.96 L677.50,213.90 L677.90,213.85 L678.30,213.81 L678.70,213.76 L679.10,213.72 L679.50,213.68 L679.90,213.64 L680.30,213.61 L680.70,213.58 L681.10,213.55 L681.50,213.52 L681.90,213.50 L682.30,213.48 L682.70,213.46 L683.10,213.44 L683.50,213.43 L683.90,213.42 L684.30,213.42 L684.70,213.42 L685.10,213.42 L685.50,213.42 L685.90,213.42 L686.30,213.43 L686.70,213.44 L687.10,213.46 L687.50,213.48 L687.90,213.50 L688.30,213.52 L688.70,213.55 L689.10,213.57 L689.50,213.61 L689.90,213.64 L690.30,213.68 L690.70,213.72 L691.10,213.76 L691.50,213.80 L691.90,213.85 L692.30,213.90 L692.70,213.95 L693.10,214.01 L693.50,214.07 L693.90,214.13 L694.30,214.19 L694.70,214.26 L695.10,214.32 L695.50,214.39 L695.90,214.47 L696.30,214.54 L696.70,214.62 L697.10,214.70 L697.50,214.78 L697.90,214.87 L698.30,214.95 L698.70,215.04 L699.10,215.13 L699.50,215.22 L699.90,215.32 L700.30,215.42 L700.70,215.52 L701.10,215.62 L701.50,215.72 L701.90,215.82 L702.30,215.93 L702.70,216.04 L703.10,216.15 L703.50,216.26 L703.90,216.37 L704.30,216.49 L704.70,216.60 L705.10,216.72 L705.50,216.84 L705.90,216.96 L706.30,217.08 L706.70,217.21 L707.10,217.33 L707.50,217.46 L707.90,217.59 L708.30,217.71 L708.70,217.84 L709.10,217.97 L709.50,218.11 L709.90,218.24 L710.30,218.37 L710.70,218.51 L711.10,218.64 L711.50,218.78 L711.90,218.91 L712.30,219.05 L712.70,219.19 L713.10,219.32 L713.50,219.46 L713.90,219.60 L714.30,219.74 L714.70,219.88 L715.10,220.02 L715.50,220.16 L715.90,220.30 L716.30,220.44 L716.70,220.58 L717.10,220.72 L717.50,220.86 L717.90,221.00 L718.30,221.14 L718.70,221.28 L719.10,221.42 L719.50,221.55 L719.90,221.69 L720.30,221.83 L720.70,221.96 L721.10,222.10 L721.50,222.23 L721.90,222.36 L722.30,222.49 L722.70,222.62 L723.10,222.75 L723.50,222.88 L723.90,223.01 L724.30,223.13 L724.70,223.26 L725.10,223.38 L725.50,223.50 L725.90,223.62 L726.30,223.74 L726.70,223.85 L727.10,223.97 L727.50,224.08 L727.90,224.19 L728.30,224.30 L728.70,224.40 L729.10,224.51 L729.50,224.61 L729.90,224.71 L730.30,224.81 L730.70,224.91 L731.10,225.00 L731.50,225.09 L731.90,225.18 L732.30,225.27 L732.70,225.35 L733.10,225.44 L733.50,225.52 L733.90,225.59 L734.30,225.67 L734.70,225.74 L735.10,225.81 L735.50,225.88 L735.90,225.95 L736.30,226.01 L736.70,226.07 L737.10,226.13 L737.50,226.18 L737.90,226.24 L738.30,226.29 L738.70,226.33 L739.10,226.38 L739.50,226.42 L739.90,226.46 L740.30,226.50 L740.70,226.53 L741.10,226.57 L741.50,226.60 L741.90,226.62 L742.30,226.65 L742.70,226.67 L743.10,226.69 L743.50,226.70 L743.90,226.72 L744.30,226.73 L744.70,226.74 L745.10,226.74 L745.50,226.75 L745.90,226.75 L746.30,226.75 L746.70,226.75 L747.10,226.74 L747.50,226.73 L747.90,226.72 L748.30,226.71 L748.70,226.69 L749.10,226.68 L749.50,226.66 L749.90,226.64 L750.30,226.61 L750.70,226.59 L751.10,226.56 L751.50,226.53 L751.90,226.49 L752.30,226.46 L752.70,226.42 L753.10,226.38 L753.50,226.34 L753.90,226.30 L754.30,226.26 L754.70,226.21 L755.10,226.16 L755.50,226.11 L755.90,226.06 L756.30,226.01 L756.70,225.95 L757.10,225.90 L757.50,225.84 L757.90,225.78 L758.30,225.72 L758.70,225.65 L759.10,225.59 L759.50,225.52 L759.90,225.46 L760.30,225.39 L760.70,225.32 L761.10,225.24 L761.50,225.17 L761.90,225.10 L762.30,225.02 L762.70,224.94 L763.10,224.87 L763.50,224.79 L763.90,224.71 L764.30,224.63 L764.70,224.54 L765.10,224.46 L765.50,224.38 L765.90,224.29 L766.30,224.20 L766.70,224.12 L767.10,224.03 L767.50,223.94 L767.90,223.85 L768.30,223.76 L768.70,223.67 L769.10,223.58 L769.50,223.49 L769.90,223.40 L770.30,223.31 L770.70,223.21 L771.10,223.12 L771.50,223.02 L771.90,222.93 L772.30,222.84 L772.70,222.74 L773.10,222.65 L773.50,222.55 L773.90,222.46 L774.30,222.36 L774.70,222.26 L775.10,222.17 L775.50,222.07 L775.90,221.98 L776.30,221.88 L776.70,221.79 L777.10,221.69 L777.50,221.60 L777.90,221.50 L778.30,221.41 L778.70,221.31 L779.10,221.22 L779.50,221.13 L779.90,221.03 L780.30,220.94 L780.70,220.85 L781.10,220.76 L781.50,220.67 L781.90,220.58 L782.30,220.49 L782.70,220.40 L783.10,220.31 L783.50,220.23 L783.90,220.14 L784.30,220.05 L784.70,219.97 L785.10,219.88 L785.50,219.80 L785.90,219.72 L786.30,219.64 L786.70,219.56 L787.10,219.48 L787.50,219.40 L787.90,219.33 L788.30,219.25 L788.70,219.18 L789.10,219.11 L789.50,219.03 L789.90,218.96 L790.30,218.90 L790.70,218.83 L791.10,218.76 L791.50,218.70 L791.90,218.64 L792.30,218.58 L792.70,218.52 L793.10,218.46 L793.50,218.40 L793.90,218.35 L794.30,218.29 L794.70,218.24 L795.10,218.19 L795.50,218.14 L795.90,218.10 L796.30,218.05 L796.70,218.01 L797.10,217.97 L797.50,217.93 L797.90,217.89 L798.30,217.86 L798.70,217.82 L799.10,217.79 L799.50,217.76 L799.90,217.74 L800.30,217.71 L800.70,217.69 L801.10,217.67 L801.50,217.65 L801.90,217.63 L802.30,217.62 L802.70,217.60 L803.10,217.59 L803.50,217.58 L803.90,217.58 L804.30,217.57 L804.70,217.57 L805.10,217.57 L805.50,217.57 L805.90,217.58 L806.30,217.59 L806.70,217.60 L807.10,217.61 L807.50,217.62 L807.90,217.64 L808.30,217.66 L808.70,217.68 L809.10,217.70 L809.50,217.72 L809.90,217.75 L810.30,217.78 L810.70,217.81 L811.10,217.85 L811.50,217.88 L811.90,217.92 L812.30,217.96 L812.70,218.01 L813.10,218.05 L813.50,218.10 L813.90,218.15 L814.30,218.20 L814.70,218.26 L815.10,218.31 L815.50,218.37 L815.90,218.43 L816.30,218.49 L816.40,218.51" fill="none" stroke="#0000ff" stroke-width="3.1" stroke-linejoin="round"/>
<path d="M457.10,226.75 L457.70,226.74 L458.30,226.72 L458.89,226.69 L459.49,226.64 L460.09,226.58 L460.69,226.51 L461.29,226.42 L461.89,226.32 L462.48,226.20 L463.08,226.07 L463.68,225.93 L464.28,225.78 L464.88,225.61 L465.48,225.43 L466.07,225.23 L466.67,225.03 L467.27,224.81 L467.87,224.58 L468.47,224.33 L469.07,224.07 L469.66,223.81 L470.26,223.53 L470.86,223.23 L471.46,222.93 L472.06,222.61 L472.66,222.29 L473.25,221.95 L473.85,221.60 L474.45,221.24 L475.05,220.88 L475.65,220.50 L476.25,220.11 L476.84,219.71 L477.44,219.30 L478.04,218.89 L478.64,218.46 L479.24,218.03 L479.84,217.59 L480.43,217.14 L481.03,216.69 L481.63,216.22 L482.23,215.75 L482.83,215.28 L483.43,214.80 L484.02,214.31 L484.62,213.81 L485.22,213.31 L485.82,212.81 L486.42,212.30 L487.02,211.79 L487.61,211.28 L488.21,210.76 L488.81,210.23 L489.41,209.71 L490.01,209.18 L490.61,208.65 L491.20,208.12 L491.80,207.59 L492.40,207.06 L493.00,206.52 L493.60,205.99 L494.20,205.46 L494.79,204.93 L495.39,204.40 L495.99,203.87 L496.59,203.34 L497.19,202.81 L497.79,202.29 L498.38,201.77 L498.98,201.25 L499.58,200.74 L500.18,200.23 L500.78,199.72 L501.38,199.22 L501.97,198.73 L502.57,198.24 L503.17,197.75 L503.77,197.28 L504.37,196.80 L504.97,196.34 L505.56,195.88 L506.16,195.43 L506.76,194.99 L507.36,194.55 L507.96,194.12 L508.56,193.71 L509.15,193.30 L509.75,192.89 L510.35,192.50 L510.95,192.12 L511.55,191.75 L512.15,191.39 L512.74,191.04 L513.34,190.70 L513.94,190.37 L514.54,190.05 L515.14,189.74 L515.74,189.44 L516.33,189.16 L516.93,188.89 L517.53,188.63 L518.13,188.38 L518.73,188.14 L519.33,187.92 L519.92,187.71 L520.52,187.51 L521.12,187.33 L521.72,187.15 L522.32,187.00 L522.92,186.85 L523.51,186.72 L524.11,186.60 L524.71,186.49 L525.31,186.40 L525.91,186.32 L526.51,186.26 L527.10,186.21 L527.70,186.17 L528.30,186.15 L528.90,186.14 L529.50,186.14 L530.10,186.16 L530.69,186.19 L531.29,186.23 L531.89,186.29 L532.49,186.36 L533.09,186.44 L533.69,186.54 L534.28,186.65 L534.88,186.78 L535.48,186.91 L536.08,187.06 L536.68,187.23 L537.28,187.40 L537.87,187.59 L538.47,187.79 L539.07,188.00 L539.67,188.22 L540.27,188.46 L540.87,188.71 L541.46,188.96 L542.06,189.23 L542.66,189.51 L543.26,189.81 L543.86,190.11 L544.46,190.42 L545.05,190.74 L545.65,191.07 L546.25,191.42 L546.85,191.77 L547.45,192.13 L548.05,192.50 L548.64,192.87 L549.24,193.26 L549.84,193.65 L550.44,194.05 L551.04,194.46 L551.64,194.88 L552.23,195.30 L552.83,195.73 L553.43,196.16 L554.03,196.60 L554.63,197.05 L555.23,197.50 L555.82,197.96 L556.42,198.42 L557.02,198.88 L557.62,199.35 L558.22,199.83 L558.82,200.30 L559.41,200.78 L560.01,201.26 L560.61,201.75 L561.21,202.23 L561.81,202.72 L562.41,203.21 L563.00,203.70 L563.60,204.19 L564.20,204.68 L564.80,205.17 L565.40,205.66 L566.00,206.15 L566.59,206.63 L567.19,207.12 L567.79,207.61 L568.39,208.09 L568.99,208.57 L569.59,209.05 L570.18,209.52 L570.78,210.00 L571.38,210.46 L571.98,210.93 L572.58,211.39 L573.18,211.84 L573.77,212.30 L574.37,212.74 L574.97,213.18 L575.57,213.62 L576.17,214.05 L576.77,214.47 L577.36,214.89 L577.96,215.30 L578.56,215.71 L579.16,216.11 L579.76,216.50 L580.36,216.88 L580.95,217.25 L581.55,217.62 L582.15,217.98 L582.75,218.33 L583.35,218.68 L583.95,219.01 L584.54,219.34 L585.14,219.66 L585.74,219.96 L586.34,220.26 L586.94,220.55 L587.54,220.83 L588.13,221.11 L588.73,221.37 L589.33,221.62 L589.93,221.86 L590.53,222.09 L591.13,222.32 L591.72,222.53 L592.32,222.73 L592.92,222.92 L593.52,223.10 L594.12,223.28 L594.72,223.44 L595.31,223.59 L595.91,223.73 L596.51,223.86 L597.11,223.98 L597.71,224.09 L598.31,224.19 L598.90,224.28 L599.50,224.36 L600.10,224.43 L600.70,224.49 L601.30,224.54 L601.90,224.58 L602.49,224.61 L603.09,224.64 L603.69,224.65 L604.29,224.65 L604.89,224.64 L605.49,224.63 L606.08,224.60 L606.68,224.57 L607.28,224.52 L607.88,224.47 L608.48,224.41 L609.08,224.34 L609.67,224.26 L610.27,224.18 L610.87,224.09 L611.47,223.99 L612.07,223.88 L612.67,223.76 L613.26,223.64 L613.86,223.51 L614.46,223.37 L615.06,223.23 L615.66,223.08 L616.26,222.93 L616.85,222.77 L617.45,222.60 L618.05,222.43 L618.65,222.25 L619.25,222.07 L619.85,221.89 L620.44,221.69 L621.04,221.50 L621.64,221.30 L622.24,221.10 L622.84,220.89 L623.44,220.68 L624.03,220.47 L624.63,220.26 L625.23,220.04 L625.83,219.82 L626.43,219.60 L627.03,219.38 L627.62,219.15 L628.22,218.93 L628.82,218.70 L629.42,218.48 L630.02,218.25 L630.62,218.02 L631.21,217.79 L631.81,217.57 L632.41,217.34 L633.01,217.11 L633.61,216.89 L634.21,216.67 L634.80,216.45 L635.40,216.23 L636.00,216.01 L636.60,215.79 L637.20,215.58 L637.80,215.37 L638.39,215.16 L638.99,214.96 L639.59,214.75 L640.19,214.56 L640.79,214.36 L641.39,214.17 L641.98,213.99 L642.58,213.80 L643.18,213.63 L643.78,213.45 L644.38,213.29 L644.98,213.12 L645.57,212.96 L646.17,212.81 L646.77,212.66 L647.37,212.52 L647.97,212.39 L648.57,212.25 L649.16,212.13 L649.76,212.01 L650.36,211.90 L650.96,211.79 L651.56,211.69 L652.16,211.60 L652.75,211.51 L653.35,211.43 L653.95,211.35 L654.55,211.29 L655.15,211.23 L655.75,211.17 L656.34,211.12 L656.94,211.08 L657.54,211.05 L658.14,211.02 L658.74,211.00 L659.34,210.99 L659.93,210.98 L660.53,210.98 L661.13,210.99 L661.73,211.01 L662.33,211.03 L662.93,211.06 L663.52,211.09 L664.12,211.13 L664.72,211.18 L665.32,211.23 L665.92,211.30 L666.52,211.36 L667.11,211.44 L667.71,211.52 L668.31,211.61 L668.91,211.70 L669.51,211.80 L670.11,211.90 L670.70,212.01 L671.30,212.13 L671.90,212.25 L672.50,212.38 L673.10,212.51 L673.70,212.65 L674.29,212.79 L674.89,212.94 L675.49,213.09 L676.09,213.25 L676.69,213.41 L677.29,213.58 L677.88,213.75 L678.48,213.92 L679.08,214.10 L679.68,214.28 L680.28,214.47 L680.88,214.65 L681.47,214.85 L682.07,215.04 L682.67,215.24 L683.27,215.44 L683.87,215.64 L684.47,215.84 L685.06,216.05 L685.66,216.26 L686.26,216.47 L686.86,216.68 L687.46,216.89 L688.06,217.10 L688.65,217.32 L689.25,217.53 L689.85,217.75 L690.45,217.96 L691.05,218.18 L691.65,218.39 L692.24,218.61 L692.84,218.82 L693.44,219.04 L694.04,219.25 L694.64,219.46 L695.24,219.67 L695.83,219.88 L696.43,220.09 L697.03,220.29 L697.63,220.50 L698.23,220.70 L698.83,220.90 L699.42,221.09 L700.02,221.29 L700.62,221.48 L701.22,221.67 L701.82,221.85 L702.42,222.03 L703.01,222.21 L703.61,222.38 L704.21,222.55 L704.81,222.72 L705.41,222.88 L706.01,223.04 L706.60,223.20 L707.20,223.35 L707.80,223.49 L708.40,223.63 L709.00,223.77 L709.60,223.90 L710.19,224.02 L710.79,224.15 L711.39,224.26 L711.99,224.37 L712.59,224.48 L713.19,224.58 L713.78,224.67 L714.38,224.76 L714.98,224.85 L715.58,224.93 L716.18,225.00 L716.78,225.07 L717.37,225.13 L717.97,225.18 L718.57,225.23 L719.17,225.28 L719.77,225.32 L720.37,225.35 L720.96,225.38 L721.56,225.40 L722.16,225.41 L722.76,225.42 L723.36,225.43 L723.96,225.43 L724.55,225.42 L725.15,225.41 L725.75,225.39 L726.35,225.37 L726.95,225.34 L727.55,225.30 L728.14,225.27 L728.74,225.22 L729.34,225.17 L729.94,225.12 L730.54,225.06 L731.14,224.99 L731.73,224.92 L732.33,224.85 L732.93,224.77 L733.53,224.68 L734.13,224.60 L734.73,224.51 L735.32,224.41 L735.92,224.31 L736.52,224.20 L737.12,224.10 L737.72,223.98 L738.32,223.87 L738.91,223.75 L739.51,223.63 L740.11,223.50 L740.71,223.38 L741.31,223.24 L741.91,223.11 L742.50,222.97 L743.10,222.84 L743.70,222.70 L744.30,222.55 L744.90,222.41 L745.50,222.26 L746.09,222.11 L746.69,221.96 L747.29,221.81 L747.89,221.66 L748.49,221.51 L749.09,221.36 L749.68,221.20 L750.28,221.05 L750.88,220.89 L751.48,220.74 L752.08,220.58 L752.68,220.43 L753.27,220.27 L753.87,220.12 L754.47,219.97 L755.07,219.82 L755.67,219.66 L756.27,219.51 L756.86,219.36 L757.46,219.22 L758.06,219.07 L758.66,218.93 L759.26,218.79 L759.86,218.65 L760.45,218.51 L761.05,218.37 L761.65,218.24 L762.25,218.11 L762.85,217.98 L763.45,217.86 L764.04,217.74 L764.64,217.62 L765.24,217.50 L765.84,217.39 L766.44,217.28 L767.04,217.18 L767.63,217.07 L768.23,216.98 L768.83,216.88 L769.43,216.79 L770.03,216.71 L770.63,216.63 L771.22,216.55 L771.82,216.47 L772.42,216.41 L773.02,216.34 L773.62,216.28 L774.22,216.22 L774.81,216.17 L775.41,216.13 L776.01,216.09 L776.61,216.05 L777.21,216.02 L777.81,215.99 L778.40,215.96 L779.00,215.95 L779.60,215.93 L780.20,215.92 L780.80,215.92 L781.40,215.92 L781.99,215.93 L782.59,215.94 L783.19,215.95 L783.79,215.97 L784.39,216.00 L784.99,216.03 L785.58,216.06 L786.18,216.10 L786.78,216.14 L787.38,216.19 L787.98,216.24 L788.58,216.30 L789.17,216.36 L789.77,216.43 L790.37,216.50 L790.97,216.57 L791.57,216.65 L792.17,216.73 L792.76,216.82 L793.36,216.91 L793.96,217.00 L794.56,217.10 L795.16,217.20 L795.76,217.30 L796.35,217.41 L796.95,217.52 L797.55,217.63 L798.15,217.75 L798.75,217.87 L799.35,217.99 L799.94,218.12 L800.54,218.25 L801.14,218.38 L801.74,218.51 L802.34,218.64 L802.94,218.78 L803.53,218.92 L804.13,219.06 L804.73,219.20 L805.33,219.34 L805.93,219.49 L806.53,219.63 L807.12,219.78 L807.72,219.93 L808.32,220.08 L808.92,220.23 L809.52,220.38 L810.12,220.53 L810.71,220.68 L811.31,220.83 L811.91,220.98 L812.51,221.13 L813.11,221.28 L813.71,221.43 L814.30,221.57 L814.90,221.72 L815.50,221.87" fill="none" stroke="#ff0000" stroke-width="2.9" stroke-dasharray="14 7" stroke-dashoffset="0" stroke-linejoin="round"/>
<path d="M61.10,477.80 L61.88,477.80 L62.67,477.80 L63.45,477.80 L64.24,477.80 L65.02,477.80 L65.81,477.80 L66.59,477.80 L67.38,477.80 L68.16,477.80 L68.95,477.80 L69.73,477.80 L70.52,477.79 L71.30,477.79 L72.09,477.79 L72.87,477.79 L73.66,477.78 L74.44,477.78 L75.23,477.77 L76.01,477.77 L76.79,477.76 L77.58,477.75 L78.36,477.74 L79.15,477.73 L79.93,477.72 L80.72,477.71 L81.50,477.69 L82.29,477.68 L83.07,477.66 L83.86,477.64 L84.64,477.61 L85.43,477.59 L86.21,477.56 L87.00,477.53 L87.78,477.50 L88.57,477.46 L89.35,477.42 L90.14,477.38 L90.92,477.34 L91.71,477.29 L92.49,477.24 L93.27,477.18 L94.06,477.12 L94.84,477.06 L95.63,476.99 L96.41,476.92 L97.20,476.85 L97.98,476.77 L98.77,476.69 L99.55,476.60 L100.34,476.51 L101.12,476.41 L101.91,476.31 L102.69,476.21 L103.48,476.10 L104.26,475.98 L105.05,475.86 L105.83,475.74 L106.62,475.61 L107.40,475.47" fill="none" stroke="#ff0000" stroke-width="2.8"/>
<path d="M116.00,473.65 L116.51,473.53 L117.02,473.40 L117.53,473.26 L118.04,473.13 L118.55,473.00 L119.06,472.86 L119.57,472.72 L120.08,472.58 L120.59,472.43 L121.10,472.29 L121.61,472.14 L122.12,471.99 L122.63,471.84 L123.14,471.69 L123.66,471.53 L124.17,471.38 L124.68,471.22 L125.19,471.06 L125.70,470.90 L126.21,470.73 L126.72,470.57 L127.23,470.40 L127.74,470.23 L128.25,470.07 L128.76,469.90 L129.27,469.72 L129.78,469.55 L130.29,469.38 L130.80,469.20 L131.31,469.03 L131.82,468.85 L132.33,468.67 L132.84,468.49 L133.35,468.31 L133.86,468.13 L134.37,467.95 L134.88,467.76 L135.39,467.58 L135.90,467.40 L136.41,467.21 L136.92,467.03 L137.43,466.84 L137.95,466.66 L138.46,466.47 L138.97,466.29 L139.48,466.10 L139.99,465.92 L140.50,465.73 L141.01,465.55 L141.52,465.36 L142.03,465.17 L142.54,464.99 L143.05,464.81 L143.56,464.62 L144.07,464.44 L144.58,464.26 L145.09,464.07 L145.60,463.89 L146.11,463.71 L146.62,463.53 L147.13,463.35 L147.64,463.18 L148.15,463.00 L148.66,462.83 L149.17,462.65 L149.68,462.48 L150.19,462.31 L150.70,462.14 L151.21,461.97 L151.72,461.81 L152.23,461.64 L152.75,461.48 L153.26,461.32 L153.77,461.16 L154.28,461.01 L154.79,460.85 L155.30,460.70 L155.81,460.55 L156.32,460.40 L156.83,460.26 L157.34,460.12 L157.85,459.98 L158.36,459.84 L158.87,459.71 L159.38,459.58 L159.89,459.45 L160.40,459.32 L160.91,459.20 L161.42,459.08 L161.93,458.96 L162.44,458.85 L162.95,458.74 L163.46,458.63 L163.97,458.53 L164.48,458.43 L164.99,458.33 L165.50,458.24 L166.01,458.15 L166.52,458.06 L167.04,457.98 L167.55,457.90 L168.06,457.82 L168.57,457.75 L169.08,457.69 L169.59,457.62 L170.10,457.56 L170.61,457.51 L171.12,457.45 L171.63,457.41 L172.14,457.36 L172.65,457.32 L173.16,457.29 L173.67,457.25 L174.18,457.23 L174.69,457.20 L175.20,457.18 L175.71,457.17 L176.22,457.16 L176.73,457.15 L177.24,457.15 L177.75,457.15 L178.26,457.16 L178.77,457.17 L179.28,457.18 L179.79,457.20 L180.30,457.22 L180.81,457.25 L181.32,457.28 L181.84,457.32 L182.35,457.36 L182.86,457.40 L183.37,457.45 L183.88,457.51 L184.39,457.56 L184.90,457.62 L185.41,457.69 L185.92,457.76 L186.43,457.83 L186.94,457.91 L187.45,457.99 L187.96,458.08 L188.47,458.17 L188.98,458.26 L189.49,458.36 L190.00,458.46 L190.51,458.57 L191.02,458.68 L191.53,458.79 L192.04,458.91 L192.55,459.03 L193.06,459.15 L193.57,459.28 L194.08,459.41 L194.59,459.54 L195.10,459.68 L195.61,459.82 L196.13,459.97 L196.64,460.12 L197.15,460.27 L197.66,460.42 L198.17,460.58 L198.68,460.74 L199.19,460.90 L199.70,461.07 L200.21,461.24 L200.72,461.41 L201.23,461.58 L201.74,461.76 L202.25,461.94 L202.76,462.12 L203.27,462.30 L203.78,462.49 L204.29,462.67 L204.80,462.86 L205.31,463.06 L205.82,463.25 L206.33,463.45 L206.84,463.64 L207.35,463.84 L207.86,464.04 L208.37,464.25 L208.88,464.45 L209.39,464.65 L209.90,464.86 L210.41,465.07 L210.93,465.27 L211.44,465.48 L211.95,465.69 L212.46,465.90 L212.97,466.11 L213.48,466.32 L213.99,466.54 L214.50,466.75 L215.01,466.96 L215.52,467.17 L216.03,467.39 L216.54,467.60 L217.05,467.81 L217.56,468.02 L218.07,468.24 L218.58,468.45 L219.09,468.66 L219.60,468.87 L220.11,469.08 L220.62,469.29 L221.13,469.50 L221.64,469.70 L222.15,469.91 L222.66,470.12 L223.17,470.32 L223.68,470.52 L224.19,470.72 L224.70,470.92 L225.22,471.12 L225.73,471.32 L226.24,471.51 L226.75,471.71 L227.26,471.90 L227.77,472.09 L228.28,472.27 L228.79,472.46 L229.30,472.64 L229.81,472.82 L230.32,473.00 L230.83,473.18 L231.34,473.35 L231.85,473.52 L232.36,473.69 L232.87,473.85 L233.38,474.02 L233.89,474.18 L234.40,474.33 L234.91,474.49 L235.42,474.64 L235.93,474.79 L236.44,474.93 L236.95,475.07 L237.46,475.21 L237.97,475.35 L238.48,475.48 L238.99,475.61 L239.50,475.73 L240.02,475.85 L240.53,475.97 L241.04,476.09 L241.55,476.20 L242.06,476.31 L242.57,476.41 L243.08,476.51 L243.59,476.61 L244.10,476.70 L244.61,476.79 L245.12,476.88 L245.63,476.96 L246.14,477.04 L246.65,477.11 L247.16,477.18 L247.67,477.25 L248.18,477.31 L248.69,477.37 L249.20,477.42 L249.71,477.48 L250.22,477.52 L250.73,477.57 L251.24,477.61 L251.75,477.64 L252.26,477.68 L252.77,477.70 L253.28,477.73 L253.79,477.75 L254.31,477.77 L254.82,477.78 L255.33,477.79 L255.84,477.80 L256.35,477.80 L256.86,477.80 L257.37,477.79 L257.88,477.79 L258.39,477.77 L258.90,477.76 L259.41,477.74 L259.92,477.72 L260.43,477.69 L260.94,477.66 L261.45,477.63 L261.96,477.60 L262.47,477.56 L262.98,477.52 L263.49,477.47 L264.00,477.42 L264.51,477.37 L265.02,477.32 L265.53,477.26 L266.04,477.20 L266.55,477.14 L267.06,477.07 L267.57,477.01 L268.08,476.93 L268.59,476.86 L269.11,476.79 L269.62,476.71 L270.13,476.63 L270.64,476.55 L271.15,476.46 L271.66,476.37 L272.17,476.29 L272.68,476.20 L273.19,476.10 L273.70,476.01 L274.21,475.91 L274.72,475.81 L275.23,475.72 L275.74,475.61 L276.25,475.51 L276.76,475.41 L277.27,475.30 L277.78,475.20 L278.29,475.09 L278.80,474.98 L279.31,474.87 L279.82,474.76 L280.33,474.65 L280.84,474.54 L281.35,474.43 L281.86,474.31 L282.37,474.20 L282.88,474.09 L283.39,473.97 L283.91,473.86 L284.42,473.75 L284.93,473.63 L285.44,473.52 L285.95,473.40 L286.46,473.29 L286.97,473.17 L287.48,473.06 L287.99,472.95 L288.50,472.84 L289.01,472.72 L289.52,472.61 L290.03,472.50 L290.54,472.39 L291.05,472.28 L291.56,472.17 L292.07,472.07 L292.58,471.96 L293.09,471.86 L293.60,471.75 L294.11,471.65 L294.62,471.55 L295.13,471.45 L295.64,471.35 L296.15,471.26 L296.66,471.16 L297.17,471.07 L297.68,470.98 L298.20,470.89 L298.71,470.80 L299.22,470.71 L299.73,470.63 L300.24,470.55 L300.75,470.47 L301.26,470.39 L301.77,470.31 L302.28,470.24 L302.79,470.17 L303.30,470.10 L303.81,470.04 L304.32,469.97 L304.83,469.91 L305.34,469.85 L305.85,469.79 L306.36,469.74 L306.87,469.69 L307.38,469.64 L307.89,469.59 L308.40,469.55 L308.91,469.51 L309.42,469.47 L309.93,469.43 L310.44,469.40 L310.95,469.37 L311.46,469.34 L311.97,469.32 L312.48,469.30 L313.00,469.28 L313.51,469.26 L314.02,469.25 L314.53,469.24 L315.04,469.23 L315.55,469.23 L316.06,469.22 L316.57,469.22 L317.08,469.23 L317.59,469.23 L318.10,469.24 L318.61,469.25 L319.12,469.27 L319.63,469.29 L320.14,469.31 L320.65,469.33 L321.16,469.36 L321.67,469.38 L322.18,469.41 L322.69,469.45 L323.20,469.48 L323.71,469.52 L324.22,469.56 L324.73,469.61 L325.24,469.65 L325.75,469.70 L326.26,469.75 L326.77,469.81 L327.29,469.86 L327.80,469.92 L328.31,469.98 L328.82,470.05 L329.33,470.11 L329.84,470.18 L330.35,470.25 L330.86,470.32 L331.37,470.39 L331.88,470.47 L332.39,470.54 L332.90,470.62 L333.41,470.70 L333.92,470.79 L334.43,470.87 L334.94,470.95 L335.45,471.04 L335.96,471.13 L336.47,471.22 L336.98,471.31 L337.49,471.41 L338.00,471.50 L338.51,471.60 L339.02,471.69 L339.53,471.79 L340.04,471.89 L340.55,471.99 L341.06,472.09 L341.57,472.19 L342.09,472.29 L342.60,472.39 L343.11,472.50 L343.62,472.60 L344.13,472.71 L344.64,472.81 L345.15,472.92 L345.66,473.02 L346.17,473.13 L346.68,473.23 L347.19,473.34 L347.70,473.45 L348.21,473.55 L348.72,473.66 L349.23,473.76 L349.74,473.87 L350.25,473.98 L350.76,474.08 L351.27,474.19 L351.78,474.29 L352.29,474.39 L352.80,474.50 L353.31,474.60 L353.82,474.70 L354.33,474.80 L354.84,474.90 L355.35,475.00 L355.86,475.10 L356.38,475.20 L356.89,475.29 L357.40,475.39 L357.91,475.48 L358.42,475.57 L358.93,475.66 L359.44,475.75 L359.95,475.84 L360.46,475.93 L360.97,476.01 L361.48,476.10 L361.99,476.18 L362.50,476.26 L363.01,476.34 L363.52,476.42 L364.03,476.49 L364.54,476.57 L365.05,476.64 L365.56,476.71 L366.07,476.78 L366.58,476.84 L367.09,476.91 L367.60,476.97 L368.11,477.03 L368.62,477.09 L369.13,477.14 L369.64,477.19 L370.15,477.25 L370.66,477.30 L371.18,477.34 L371.69,477.39 L372.20,477.43 L372.71,477.47 L373.22,477.51 L373.73,477.54 L374.24,477.58 L374.75,477.61 L375.26,477.64 L375.77,477.66 L376.28,477.69 L376.79,477.71 L377.30,477.73 L377.81,477.75 L378.32,477.76 L378.83,477.77 L379.34,477.78 L379.85,477.79 L380.36,477.80 L380.87,477.80 L381.38,477.80 L381.89,477.80 L382.40,477.79 L382.91,477.79 L383.42,477.78 L383.93,477.77 L384.44,477.76 L384.95,477.74 L385.47,477.72 L385.98,477.70 L386.49,477.68 L387.00,477.66 L387.51,477.63 L388.02,477.60 L388.53,477.57 L389.04,477.54 L389.55,477.51 L390.06,477.47 L390.57,477.43 L391.08,477.39 L391.59,477.35 L392.10,477.31 L392.61,477.26 L393.12,477.22 L393.63,477.17 L394.14,477.12 L394.65,477.07 L395.16,477.01 L395.67,476.96 L396.18,476.90 L396.69,476.84 L397.20,476.78 L397.71,476.72 L398.22,476.66 L398.73,476.60 L399.24,476.54 L399.75,476.47 L400.27,476.40 L400.78,476.34 L401.29,476.27 L401.80,476.20 L402.31,476.13 L402.82,476.06 L403.33,475.99 L403.84,475.91 L404.35,475.84 L404.86,475.77 L405.37,475.69 L405.88,475.62 L406.39,475.54 L406.90,475.47 L407.41,475.39 L407.92,475.31 L408.43,475.24 L408.94,475.16 L409.45,475.09 L409.96,475.01 L410.47,474.93 L410.98,474.86 L411.49,474.78 L412.00,474.70 L412.51,474.63 L413.02,474.55 L413.53,474.48 L414.04,474.40 L414.56,474.33 L415.07,474.25 L415.58,474.18 L416.09,474.11 L416.60,474.03 L417.11,473.96 L417.62,473.89 L418.13,473.82 L418.64,473.75 L419.15,473.69 L419.66,473.62 L420.17,473.55 L420.68,473.49 L421.19,473.42 L421.70,473.36" fill="none" stroke="#ff0000" stroke-width="2.8" stroke-dasharray="14.3 7.2" stroke-dashoffset="0"/>
<path d="M61.10,477.80 L61.50,477.80 L61.90,477.80 L62.30,477.79 L62.70,477.79 L63.10,477.78 L63.50,477.78 L63.90,477.76 L64.30,477.75 L64.70,477.73 L65.10,477.71 L65.50,477.69 L65.90,477.66 L66.30,477.63 L66.70,477.60 L67.10,477.56 L67.50,477.51 L67.90,477.46 L68.30,477.41 L68.70,477.35 L69.10,477.28 L69.50,477.21 L69.90,477.13 L70.30,477.05 L70.70,476.95 L71.10,476.85 L71.50,476.75 L71.90,476.63 L72.30,476.51 L72.70,476.38 L73.10,476.25 L73.50,476.10 L73.90,475.95 L74.30,475.79 L74.70,475.62 L75.10,475.45 L75.50,475.26 L75.90,475.07 L76.30,474.86 L76.70,474.65 L77.10,474.44 L77.50,474.21 L77.90,473.97 L78.30,473.73 L78.70,473.48 L79.10,473.22 L79.50,472.95 L79.90,472.68 L80.30,472.39 L80.70,472.10 L81.10,471.80 L81.50,471.50 L81.90,471.19 L82.30,470.87 L82.70,470.54 L83.10,470.21 L83.50,469.88 L83.90,469.54 L84.30,469.19 L84.70,468.84 L85.10,468.48 L85.50,468.12 L85.90,467.76 L86.30,467.39 L86.70,467.02 L87.10,466.65 L87.50,466.27 L87.90,465.89 L88.30,465.52 L88.70,465.14 L89.10,464.76 L89.50,464.39 L89.90,464.01 L90.30,463.64 L90.70,463.26 L91.10,462.89 L91.50,462.53 L91.90,462.17 L92.30,461.81 L92.70,461.45 L93.10,461.11 L93.50,460.77 L93.90,460.43 L94.30,460.10 L94.70,459.79 L95.10,459.47 L95.50,459.17 L95.90,458.88 L96.30,458.60 L96.70,458.33 L96.90,458.20" fill="none" stroke="#0000ff" stroke-width="2.9" stroke-linejoin="round"/>
<path d="M95.71,267.00 L96.11,278.66 L96.51,288.58 L96.91,297.18 L97.31,304.85 L97.71,311.96 L98.11,318.82 L98.51,325.60 L98.91,332.32 L99.31,339.03 L99.71,345.76 L100.11,352.64 L100.51,359.82 L100.91,367.42 L101.31,375.58 L101.71,384.38 L102.11,393.20 L102.51,400.92 L102.91,406.89 L103.31,411.49 L103.71,415.13 L104.11,418.22 L104.51,421.03 L104.91,423.63 L105.31,426.03 L105.71,428.26 L106.11,430.34 L106.51,432.29 L106.91,434.11 L107.31,435.82 L107.71,437.45 L108.11,438.98 L108.51,440.44 L108.91,441.83 L109.31,443.16 L109.71,444.43 L110.11,445.66 L110.51,446.85 L110.91,448.01 L111.31,449.13 L111.71,450.23 L112.11,451.29 L112.51,452.32 L112.91,453.31 L113.31,454.28 L113.71,455.21 L114.11,456.12 L114.51,456.99 L114.91,457.84 L115.31,458.66 L115.71,459.45 L116.11,460.22 L116.51,460.97 L116.91,461.70 L117.31,462.41 L117.71,463.11 L118.11,463.79 L118.51,464.46 L118.91,465.12 L119.31,465.77 L119.71,466.40 L120.11,467.02 L120.51,467.62 L120.91,468.20 L121.31,468.76 L121.71,469.29 L122.11,469.81 L122.51,470.30 L122.91,470.76 L123.31,471.20 L123.71,471.62 L124.11,472.02 L124.51,472.39 L124.91,472.74 L125.31,473.08 L125.71,473.40 L126.11,473.69 L126.51,473.98 L126.91,474.24 L127.31,474.50 L127.71,474.73 L128.11,474.96 L128.51,475.17 L128.91,475.37 L129.31,475.56 L129.71,475.73 L130.11,475.90 L130.51,476.05 L130.91,476.20 L131.31,476.34 L131.71,476.46 L132.11,476.58 L132.51,476.70 L132.91,476.80 L133.31,476.90 L133.71,476.99 L134.11,477.08 L134.51,477.16 L134.91,477.23 L135.31,477.30 L135.71,477.36 L136.11,477.42 L136.51,477.47 L136.91,477.52 L137.31,477.56 L137.71,477.60 L138.11,477.64 L138.51,477.67 L138.91,477.70 L139.31,477.72 L139.71,477.74 L140.11,477.76 L140.51,477.78 L140.91,477.79 L141.31,477.79 L141.71,477.80 L142.11,477.80 L142.51,477.80 L142.91,477.79 L143.31,477.79 L143.71,477.77 L144.11,477.76 L144.51,477.74 L144.91,477.72 L145.31,477.70 L145.71,477.68 L146.11,477.65 L146.51,477.62 L146.91,477.58 L147.31,477.54 L147.71,477.50 L148.11,477.46 L148.51,477.41 L148.91,477.37 L149.31,477.31 L149.71,477.26 L150.11,477.20 L150.51,477.15 L150.91,477.08 L151.31,477.02 L151.71,476.95 L152.11,476.88 L152.51,476.81 L152.91,476.74 L153.31,476.66 L153.71,476.58 L154.11,476.50 L154.51,476.42 L154.91,476.33 L155.31,476.24 L155.71,476.15 L156.11,476.06 L156.51,475.97 L156.91,475.87 L157.31,475.77 L157.71,475.67 L158.11,475.57 L158.51,475.46 L158.91,475.36 L159.31,475.25 L159.71,475.14 L160.11,475.03 L160.51,474.91 L160.91,474.80 L161.31,474.68 L161.71,474.56 L162.11,474.44 L162.51,474.32 L162.91,474.20 L163.31,474.08 L163.71,473.95 L164.11,473.83 L164.51,473.70 L164.91,473.57 L165.31,473.44 L165.71,473.31 L166.11,473.18 L166.51,473.04 L166.91,472.91 L167.31,472.77 L167.71,472.64 L168.11,472.50 L168.51,472.36 L168.91,472.23 L169.31,472.09 L169.71,471.95 L170.11,471.81 L170.51,471.67 L170.91,471.53 L171.31,471.39 L171.71,471.24 L172.11,471.10 L172.51,470.96 L172.91,470.82 L173.31,470.68 L173.71,470.53 L174.11,470.39 L174.51,470.25 L174.91,470.11 L175.31,469.96 L175.71,469.82 L176.11,469.68 L176.51,469.54 L176.91,469.40 L177.31,469.26 L177.71,469.12 L178.11,468.98 L178.51,468.84 L178.91,468.70 L179.31,468.56 L179.71,468.42 L180.11,468.29 L180.51,468.15 L180.91,468.01 L181.31,467.88 L181.71,467.75 L182.11,467.61 L182.51,467.48 L182.91,467.35 L183.31,467.22 L183.71,467.09 L184.11,466.96 L184.51,466.84 L184.91,466.71 L185.31,466.59 L185.71,466.46 L186.11,466.34 L186.51,466.22 L186.91,466.10 L187.31,465.98 L187.71,465.87 L188.11,465.75 L188.51,465.64 L188.91,465.53 L189.31,465.42 L189.71,465.31 L190.11,465.20 L190.51,465.10 L190.91,464.99 L191.31,464.89 L191.71,464.79 L192.11,464.69 L192.51,464.60 L192.91,464.50 L193.31,464.41 L193.71,464.32 L194.11,464.23 L194.51,464.15 L194.91,464.06 L195.31,463.98 L195.71,463.90 L196.11,463.82 L196.51,463.74 L196.91,463.67 L197.31,463.60 L197.71,463.53 L198.11,463.46 L198.51,463.40 L198.91,463.34 L199.31,463.28 L199.71,463.22 L200.11,463.16 L200.51,463.11 L200.91,463.06 L201.31,463.01 L201.71,462.97 L202.11,462.92 L202.51,462.88 L202.91,462.84 L203.31,462.81 L203.71,462.78 L204.11,462.75 L204.51,462.72 L204.91,462.69 L205.31,462.67 L205.71,462.65 L206.11,462.63 L206.51,462.62 L206.91,462.61 L207.31,462.60 L207.71,462.59 L208.11,462.59 L208.51,462.59 L208.91,462.59 L209.31,462.59 L209.71,462.60 L210.11,462.61 L210.51,462.62 L210.91,462.64 L211.31,462.65 L211.71,462.67 L212.11,462.70 L212.51,462.72 L212.91,462.75 L213.31,462.78 L213.71,462.81 L214.11,462.85 L214.51,462.89 L214.91,462.93 L215.31,462.97 L215.71,463.01 L216.11,463.06 L216.51,463.11 L216.91,463.16 L217.31,463.22 L217.71,463.28 L218.11,463.34 L218.51,463.40 L218.91,463.46 L219.31,463.53 L219.71,463.60 L220.11,463.67 L220.51,463.74 L220.91,463.81 L221.31,463.89 L221.71,463.97 L222.11,464.05 L222.51,464.14 L222.91,464.22 L223.31,464.31 L223.71,464.40 L224.11,464.49 L224.51,464.58 L224.91,464.68 L225.31,464.77 L225.71,464.87 L226.11,464.97 L226.51,465.08 L226.91,465.18 L227.31,465.29 L227.71,465.39 L228.11,465.50 L228.51,465.61 L228.91,465.72 L229.31,465.84 L229.71,465.95 L230.11,466.07 L230.51,466.19 L230.91,466.30 L231.31,466.43 L231.71,466.55 L232.11,466.67 L232.51,466.79 L232.91,466.92 L233.31,467.05 L233.71,467.17 L234.11,467.30 L234.51,467.43 L234.91,467.56 L235.31,467.69 L235.71,467.82 L236.11,467.96 L236.51,468.09 L236.91,468.23 L237.31,468.36 L237.71,468.50 L238.11,468.64 L238.51,468.77 L238.91,468.91 L239.31,469.05 L239.71,469.19 L240.11,469.33 L240.51,469.47 L240.91,469.61 L241.31,469.75 L241.71,469.89 L242.11,470.03 L242.51,470.17 L242.91,470.31 L243.31,470.45 L243.71,470.59 L244.11,470.73 L244.51,470.87 L244.91,471.02 L245.31,471.16 L245.71,471.30 L246.11,471.44 L246.51,471.58 L246.91,471.71 L247.31,471.85 L247.71,471.99 L248.11,472.13 L248.51,472.26 L248.91,472.40 L249.31,472.53 L249.71,472.67 L250.11,472.80 L250.51,472.93 L250.91,473.06 L251.31,473.19 L251.71,473.32 L252.11,473.45 L252.51,473.58 L252.91,473.70 L253.31,473.82 L253.71,473.95 L254.11,474.07 L254.51,474.19 L254.91,474.31 L255.31,474.42 L255.71,474.54 L256.11,474.65 L256.51,474.76 L256.91,474.87 L257.31,474.98 L257.71,475.09 L258.11,475.19 L258.51,475.30 L258.91,475.40 L259.31,475.50 L259.71,475.59 L260.11,475.69 L260.51,475.78 L260.91,475.87 L261.31,475.96 L261.71,476.05 L262.11,476.14 L262.51,476.22 L262.91,476.30 L263.31,476.38 L263.71,476.46 L264.11,476.53 L264.51,476.61 L264.91,476.68 L265.31,476.75 L265.71,476.81 L266.11,476.88 L266.51,476.94 L266.91,477.00 L267.31,477.06 L267.71,477.11 L268.11,477.17 L268.51,477.22 L268.91,477.27 L269.31,477.32 L269.71,477.36 L270.11,477.40 L270.51,477.44 L270.91,477.48 L271.31,477.52 L271.71,477.55 L272.11,477.58 L272.51,477.61 L272.91,477.64 L273.31,477.66 L273.71,477.69 L274.11,477.71 L274.51,477.72 L274.91,477.74 L275.31,477.76 L275.71,477.77 L276.11,477.78 L276.51,477.79 L276.91,477.79 L277.31,477.80 L277.71,477.80 L278.11,477.80 L278.51,477.80 L278.91,477.80 L279.31,477.79 L279.71,477.78 L280.11,477.77 L280.51,477.76 L280.91,477.75 L281.31,477.74 L281.71,477.72 L282.11,477.70 L282.51,477.68 L282.91,477.66 L283.31,477.64 L283.71,477.62 L284.11,477.59 L284.51,477.56 L284.91,477.54 L285.31,477.51 L285.71,477.47 L286.11,477.44 L286.51,477.41 L286.91,477.37 L287.31,477.33 L287.71,477.30 L288.11,477.26 L288.51,477.21 L288.91,477.17 L289.31,477.13 L289.71,477.08 L290.11,477.04 L290.51,476.99 L290.91,476.94 L291.31,476.89 L291.71,476.84 L292.11,476.79 L292.51,476.74 L292.91,476.69 L293.31,476.63 L293.71,476.58 L294.11,476.52 L294.51,476.46 L294.91,476.40 L295.31,476.34 L295.71,476.28 L296.11,476.22 L296.51,476.16 L296.91,476.10 L297.31,476.04 L297.71,475.97 L298.11,475.91 L298.51,475.84 L298.91,475.78 L299.31,475.71 L299.71,475.64 L300.11,475.58 L300.51,475.51 L300.91,475.44 L301.31,475.37 L301.71,475.30 L302.11,475.23 L302.51,475.16 L302.91,475.09 L303.31,475.02 L303.71,474.94 L304.11,474.87 L304.51,474.80 L304.91,474.73 L305.31,474.65 L305.71,474.58 L306.11,474.51 L306.51,474.43 L306.91,474.36 L307.31,474.28 L307.71,474.21 L308.11,474.13 L308.51,474.06 L308.91,473.99 L309.31,473.91 L309.71,473.84 L310.11,473.76 L310.51,473.69 L310.91,473.61 L311.31,473.54 L311.71,473.46 L312.11,473.39 L312.51,473.31 L312.91,473.24 L313.31,473.16 L313.71,473.09 L314.11,473.02 L314.51,472.94 L314.91,472.87 L315.31,472.80 L315.71,472.72 L316.11,472.65 L316.51,472.58 L316.91,472.51 L317.31,472.44 L317.71,472.37 L318.11,472.30 L318.51,472.23 L318.91,472.16 L319.31,472.09 L319.71,472.03 L320.11,471.96 L320.51,471.89 L320.91,471.83 L321.31,471.77 L321.71,471.70 L322.11,471.64 L322.51,471.58 L322.91,471.52 L323.31,471.46 L323.71,471.40 L324.11,471.34 L324.51,471.28 L324.91,471.23 L325.31,471.17 L325.71,471.12 L326.11,471.07 L326.51,471.02 L326.91,470.96 L327.31,470.92 L327.71,470.87 L328.11,470.82 L328.51,470.78 L328.91,470.73 L329.31,470.69 L329.71,470.65 L330.11,470.61 L330.51,470.57 L330.91,470.53 L331.31,470.49 L331.71,470.46 L332.11,470.43 L332.51,470.39 L332.91,470.36 L333.31,470.34 L333.71,470.31 L334.11,470.28 L334.51,470.26 L334.91,470.24 L335.31,470.22 L335.71,470.20 L336.11,470.18 L336.51,470.16 L336.91,470.15 L337.31,470.14 L337.71,470.13 L338.11,470.12 L338.51,470.11 L338.91,470.11 L339.31,470.10 L339.71,470.10 L340.11,470.10 L340.51,470.10 L340.91,470.11 L341.31,470.11 L341.71,470.12 L342.11,470.13 L342.51,470.14 L342.91,470.15 L343.31,470.17 L343.71,470.18 L344.11,470.20 L344.51,470.22 L344.91,470.24 L345.31,470.26 L345.71,470.29 L346.11,470.32 L346.51,470.35 L346.91,470.38 L347.31,470.41 L347.71,470.44 L348.11,470.48 L348.51,470.51 L348.91,470.55 L349.31,470.59 L349.71,470.64 L350.11,470.68 L350.51,470.73 L350.91,470.77 L351.31,470.82 L351.71,470.87 L352.11,470.92 L352.51,470.98 L352.91,471.03 L353.31,471.09 L353.71,471.14 L354.11,471.20 L354.51,471.26 L354.91,471.33 L355.31,471.39 L355.71,471.45 L356.11,471.52 L356.51,471.59 L356.91,471.65 L357.31,471.72 L357.71,471.80 L358.11,471.87 L358.51,471.94 L358.91,472.01 L359.31,472.09 L359.71,472.17 L360.11,472.24 L360.51,472.32 L360.91,472.40 L361.31,472.48 L361.71,472.56 L362.11,472.64 L362.51,472.73 L362.91,472.81 L363.31,472.90 L363.71,472.98 L364.11,473.07 L364.51,473.15 L364.91,473.24 L365.31,473.33 L365.71,473.42 L366.11,473.50 L366.51,473.59 L366.91,473.68 L367.31,473.77 L367.71,473.86 L368.11,473.95 L368.51,474.04 L368.91,474.13 L369.31,474.22 L369.71,474.32 L370.11,474.41 L370.51,474.50 L370.91,474.59 L371.31,474.68 L371.71,474.77 L372.11,474.86 L372.51,474.94 L372.91,475.03 L373.31,475.12 L373.71,475.21 L374.11,475.29 L374.51,475.38 L374.91,475.46 L375.31,475.55 L375.71,475.63 L376.11,475.71 L376.51,475.79 L376.91,475.87 L377.31,475.95 L377.71,476.03 L378.11,476.10 L378.51,476.18 L378.91,476.25 L379.31,476.32 L379.71,476.39 L380.11,476.46 L380.51,476.53 L380.91,476.59 L381.31,476.66 L381.71,476.72 L382.11,476.78 L382.51,476.84 L382.91,476.90 L383.31,476.95 L383.71,477.01 L384.11,477.06 L384.51,477.11 L384.91,477.16 L385.31,477.20 L385.71,477.25 L386.11,477.29 L386.51,477.33 L386.91,477.37 L387.31,477.41 L387.71,477.45 L388.11,477.48 L388.51,477.52 L388.91,477.55 L389.31,477.57 L389.71,477.60 L390.11,477.63 L390.51,477.65 L390.91,477.67 L391.31,477.69 L391.71,477.71 L392.11,477.73 L392.51,477.74 L392.91,477.75 L393.31,477.77 L393.71,477.78 L394.11,477.78 L394.51,477.79 L394.91,477.79 L395.31,477.80 L395.71,477.80 L396.11,477.80 L396.51,477.80 L396.91,477.80 L397.31,477.79 L397.71,477.79 L398.11,477.78 L398.51,477.77 L398.91,477.76 L399.31,477.75 L399.71,477.74 L400.11,477.73 L400.51,477.72 L400.91,477.70 L401.31,477.69 L401.71,477.67 L402.11,477.65 L402.51,477.64 L402.91,477.62 L403.31,477.60 L403.71,477.58 L404.11,477.56 L404.51,477.54 L404.91,477.52 L405.31,477.49 L405.71,477.47 L406.11,477.45 L406.51,477.43 L406.91,477.40 L407.31,477.38 L407.71,477.36 L408.11,477.33 L408.51,477.31 L408.91,477.29 L409.31,477.27 L409.71,477.24 L410.11,477.22 L410.51,477.20 L410.91,477.18 L411.31,477.15 L411.71,477.13 L412.11,477.11 L412.51,477.09 L412.91,477.08 L413.31,477.06 L413.71,477.04 L414.11,477.02 L414.51,477.01 L414.91,476.99 L415.31,476.98 L415.71,476.96 L416.11,476.95 L416.51,476.94 L416.91,476.93 L417.31,476.92 L417.71,476.91 L418.11,476.90 L418.51,476.90 L418.91,476.89 L419.31,476.89 L419.71,476.89 L420.11,476.89 L420.51,476.89 L420.91,476.89 L421.31,476.89 L421.71,476.90 L421.80,476.90" fill="none" stroke="#0000ff" stroke-width="2.9" stroke-linejoin="round"/>
<path d="M457.50,285.32 L458.10,285.35 L458.69,285.42 L459.29,285.54 L459.89,285.70 L460.48,285.92 L461.08,286.18 L461.68,286.49 L462.27,286.85 L462.87,287.25 L463.47,287.71 L464.06,288.20 L464.66,288.75 L465.26,289.34 L465.85,289.97 L466.45,290.65 L467.05,291.38 L467.64,292.15 L468.24,292.96 L468.84,293.82 L469.43,294.72 L470.03,295.66 L470.63,296.65 L471.22,297.68 L471.82,298.74 L472.42,299.85 L473.01,301.00 L473.61,302.19 L474.21,303.41 L474.80,304.68 L475.40,305.98 L476.00,307.32 L476.59,308.69 L477.19,310.10 L477.79,311.54 L478.38,313.01 L478.98,314.52 L479.58,316.06 L480.17,317.63 L480.77,319.23 L481.37,320.86 L481.96,322.51 L482.56,324.20 L483.16,325.91 L483.75,327.64 L484.35,329.41 L484.95,331.19 L485.54,333.00 L486.14,334.83 L486.74,336.68 L487.33,338.54 L487.93,340.43 L488.53,342.34 L489.12,344.26 L489.72,346.20 L490.32,348.15 L490.91,350.12 L491.51,352.10 L492.11,354.09 L492.70,356.09 L493.30,358.10 L493.90,360.12 L494.49,362.15 L495.09,364.18 L495.69,366.22 L496.28,368.26 L496.88,370.31 L497.48,372.36 L498.07,374.41 L498.67,376.46 L499.27,378.51 L499.86,380.56 L500.46,382.61 L501.06,384.65 L501.65,386.69 L502.25,388.72 L502.85,390.75 L503.44,392.77 L504.04,394.78 L504.64,396.78 L505.23,398.77 L505.83,400.75 L506.43,402.71 L507.02,404.67 L507.62,406.61 L508.22,408.53 L508.81,410.44 L509.41,412.34 L510.01,414.21 L510.60,416.07 L511.20,417.91 L511.80,419.73 L512.39,421.53 L512.99,423.31 L513.59,425.07 L514.18,426.80 L514.78,428.51 L515.38,430.20 L515.97,431.86 L516.57,433.50 L517.17,435.11 L517.76,436.70 L518.36,438.26 L518.96,439.79 L519.55,441.30 L520.15,442.77 L520.75,444.22 L521.34,445.64 L521.94,447.03 L522.54,448.39 L523.13,449.71 L523.73,451.01 L524.33,452.28 L524.92,453.51 L525.52,454.72 L526.12,455.89 L526.71,457.03 L527.31,458.14 L527.91,459.21 L528.50,460.25 L529.10,461.26 L529.70,462.24 L530.29,463.18 L530.89,464.09 L531.49,464.97 L532.08,465.81 L532.68,466.62 L533.28,467.40 L533.87,468.15 L534.47,468.86 L535.07,469.53 L535.66,470.18 L536.26,470.79 L536.86,471.37 L537.45,471.92 L538.05,472.43 L538.65,472.91 L539.24,473.36 L539.84,473.78 L540.44,474.17 L541.03,474.52 L541.63,474.85 L542.23,475.14 L542.82,475.41 L543.42,475.64 L544.02,475.85 L544.61,476.03 L545.21,476.17 L545.81,476.29 L546.40,476.39 L547.00,476.45 L547.60,476.49 L548.19,476.50 L548.79,476.49 L549.39,476.45 L549.98,476.38 L550.58,476.29 L551.18,476.18 L551.77,476.05 L552.37,475.89 L552.97,475.71 L553.56,475.51 L554.16,475.29 L554.76,475.05 L555.35,474.79 L555.95,474.51 L556.55,474.21 L557.14,473.89 L557.74,473.56 L558.34,473.21 L558.93,472.85 L559.53,472.47 L560.13,472.07 L560.72,471.67 L561.32,471.25 L561.92,470.82 L562.51,470.37 L563.11,469.92 L563.71,469.45 L564.30,468.98 L564.90,468.50 L565.50,468.01 L566.09,467.51 L566.69,467.00 L567.29,466.49 L567.88,465.97 L568.48,465.45 L569.08,464.93 L569.67,464.40 L570.27,463.87 L570.87,463.33 L571.46,462.80 L572.06,462.26 L572.66,461.73 L573.25,461.19 L573.85,460.66 L574.45,460.13 L575.04,459.60 L575.64,459.07 L576.24,458.54 L576.83,458.02 L577.43,457.51 L578.03,457.00 L578.62,456.49 L579.22,456.00 L579.82,455.50 L580.41,455.02 L581.01,454.54 L581.61,454.07 L582.20,453.61 L582.80,453.16 L583.40,452.72 L583.99,452.29 L584.59,451.87 L585.19,451.46 L585.78,451.06 L586.38,450.67 L586.98,450.30 L587.57,449.94 L588.17,449.59 L588.77,449.25 L589.36,448.92 L589.96,448.61 L590.56,448.31 L591.15,448.03 L591.75,447.76 L592.35,447.51 L592.94,447.27 L593.54,447.04 L594.14,446.83 L594.73,446.63 L595.33,446.45 L595.93,446.29 L596.52,446.14 L597.12,446.00 L597.72,445.88 L598.31,445.78 L598.91,445.69 L599.51,445.62 L600.10,445.56 L600.70,445.52 L601.30,445.50 L601.89,445.49 L602.49,445.49 L603.09,445.52 L603.68,445.55 L604.28,445.60 L604.88,445.67 L605.47,445.75 L606.07,445.85 L606.67,445.96 L607.26,446.09 L607.86,446.23 L608.46,446.39 L609.05,446.56 L609.65,446.74 L610.25,446.94 L610.84,447.15 L611.44,447.37 L612.04,447.61 L612.63,447.85 L613.23,448.11 L613.83,448.39 L614.42,448.67 L615.02,448.97 L615.62,449.27 L616.21,449.59 L616.81,449.92 L617.41,450.25 L618.00,450.60 L618.60,450.96 L619.20,451.32 L619.79,451.70 L620.39,452.08 L620.99,452.47 L621.58,452.87 L622.18,453.27 L622.78,453.68 L623.37,454.10 L623.97,454.52 L624.57,454.95 L625.16,455.38 L625.76,455.82 L626.36,456.26 L626.95,456.71 L627.55,457.16 L628.15,457.61 L628.74,458.06 L629.34,458.52 L629.94,458.97 L630.53,459.43 L631.13,459.89 L631.73,460.35 L632.32,460.81 L632.92,461.27 L633.52,461.73 L634.11,462.19 L634.71,462.64 L635.31,463.10 L635.90,463.55 L636.50,464.00 L637.09,464.44 L637.69,464.88 L638.29,465.32 L638.88,465.76 L639.48,466.18 L640.08,466.61 L640.67,467.03 L641.27,467.44 L641.87,467.85 L642.46,468.25 L643.06,468.64 L643.66,469.03 L644.25,469.40 L644.85,469.78 L645.45,470.14 L646.04,470.50 L646.64,470.84 L647.24,471.18 L647.83,471.51 L648.43,471.83 L649.03,472.14 L649.62,472.44 L650.22,472.74 L650.82,473.02 L651.41,473.29 L652.01,473.55 L652.61,473.80 L653.20,474.04 L653.80,474.27 L654.40,474.49 L654.99,474.70 L655.59,474.90 L656.19,475.08 L656.78,475.26 L657.38,475.42 L657.98,475.57 L658.57,475.71 L659.17,475.84 L659.77,475.96 L660.36,476.06 L660.96,476.16 L661.56,476.24 L662.15,476.31 L662.75,476.37 L663.35,476.42 L663.94,476.46 L664.54,476.48 L665.14,476.50 L665.73,476.50 L666.33,476.49 L666.93,476.47 L667.52,476.44 L668.12,476.40 L668.72,476.35 L669.31,476.29 L669.91,476.22 L670.51,476.14 L671.10,476.05 L671.70,475.94 L672.30,475.83 L672.89,475.71 L673.49,475.58 L674.09,475.44 L674.68,475.29 L675.28,475.14 L675.88,474.97 L676.47,474.80 L677.07,474.62 L677.67,474.43 L678.26,474.24 L678.86,474.03 L679.46,473.82 L680.05,473.61 L680.65,473.39 L681.25,473.16 L681.84,472.92 L682.44,472.68 L683.04,472.44 L683.63,472.19 L684.23,471.94 L684.83,471.68 L685.42,471.42 L686.02,471.15 L686.62,470.88 L687.21,470.61 L687.81,470.33 L688.41,470.06 L689.00,469.78 L689.60,469.50 L690.20,469.22 L690.79,468.93 L691.39,468.65 L691.99,468.36 L692.58,468.08 L693.18,467.79 L693.78,467.51 L694.37,467.23 L694.97,466.94 L695.57,466.66 L696.16,466.38 L696.76,466.10 L697.36,465.83 L697.95,465.56 L698.55,465.29 L699.15,465.02 L699.74,464.76 L700.34,464.50 L700.94,464.24 L701.53,463.99 L702.13,463.74 L702.73,463.50 L703.32,463.26 L703.92,463.02 L704.52,462.80 L705.11,462.57 L705.71,462.36 L706.31,462.15 L706.90,461.94 L707.50,461.75 L708.10,461.55 L708.69,461.37 L709.29,461.19 L709.89,461.02 L710.48,460.86 L711.08,460.70 L711.68,460.55 L712.27,460.41 L712.87,460.28 L713.47,460.16 L714.06,460.04 L714.66,459.93 L715.26,459.83 L715.85,459.74 L716.45,459.65 L717.05,459.58 L717.64,459.51 L718.24,459.45 L718.84,459.40 L719.43,459.36 L720.03,459.33 L720.63,459.30 L721.22,459.29 L721.82,459.28 L722.42,459.28 L723.01,459.29 L723.61,459.31 L724.21,459.34 L724.80,459.38 L725.40,459.42 L726.00,459.47 L726.59,459.53 L727.19,459.60 L727.79,459.68 L728.38,459.77 L728.98,459.86 L729.58,459.96 L730.17,460.07 L730.77,460.19 L731.37,460.31 L731.96,460.44 L732.56,460.58 L733.16,460.73 L733.75,460.88 L734.35,461.04 L734.95,461.21 L735.54,461.38 L736.14,461.56 L736.74,461.74 L737.33,461.93 L737.93,462.13 L738.53,462.33 L739.12,462.53 L739.72,462.75 L740.32,462.96 L740.91,463.18 L741.51,463.41 L742.11,463.64 L742.70,463.87 L743.30,464.11 L743.90,464.35 L744.49,464.59 L745.09,464.84 L745.69,465.09 L746.28,465.34 L746.88,465.59 L747.48,465.85 L748.07,466.10 L748.67,466.36 L749.27,466.62 L749.86,466.88 L750.46,467.14 L751.06,467.41 L751.65,467.67 L752.25,467.93 L752.85,468.19 L753.44,468.46 L754.04,468.72 L754.64,468.98 L755.23,469.23 L755.83,469.49 L756.43,469.75 L757.02,470.00 L757.62,470.25 L758.22,470.50 L758.81,470.75 L759.41,470.99 L760.01,471.23 L760.60,471.47 L761.20,471.70 L761.80,471.93 L762.39,472.16 L762.99,472.38 L763.59,472.60 L764.18,472.81 L764.78,473.02 L765.38,473.23 L765.97,473.43 L766.57,473.62 L767.17,473.81 L767.76,473.99 L768.36,474.17 L768.96,474.34 L769.55,474.51 L770.15,474.67 L770.75,474.82 L771.34,474.97 L771.94,475.11 L772.54,475.25 L773.13,475.38 L773.73,475.50 L774.33,475.61 L774.92,475.72 L775.52,475.82 L776.12,475.92 L776.71,476.00 L777.31,476.08 L777.91,476.16 L778.50,476.22 L779.10,476.28 L779.70,476.34 L780.29,476.38 L780.89,476.42 L781.49,476.45 L782.08,476.47 L782.68,476.49 L783.28,476.50 L783.87,476.50 L784.47,476.49 L785.07,476.48 L785.66,476.46 L786.26,476.44 L786.86,476.41 L787.45,476.37 L788.05,476.32 L788.65,476.27 L789.24,476.21 L789.84,476.14 L790.44,476.07 L791.03,475.99 L791.63,475.91 L792.23,475.82 L792.82,475.72 L793.42,475.62 L794.02,475.51 L794.61,475.40 L795.21,475.28 L795.81,475.16 L796.40,475.03 L797.00,474.90 L797.60,474.76 L798.19,474.62 L798.79,474.47 L799.39,474.32 L799.98,474.16 L800.58,474.00 L801.18,473.84 L801.77,473.67 L802.37,473.51 L802.97,473.33 L803.56,473.16 L804.16,472.98 L804.76,472.80 L805.35,472.62 L805.95,472.43 L806.55,472.25 L807.14,472.06 L807.74,471.87 L808.34,471.68 L808.93,471.48 L809.53,471.29 L810.13,471.10 L810.72,470.90 L811.32,470.71 L811.92,470.52 L812.51,470.32 L813.11,470.13 L813.71,469.93 L814.30,469.74 L814.90,469.55" fill="none" stroke="#ff0000" stroke-width="2.6" stroke-dasharray="14 7" stroke-dashoffset="0" stroke-linejoin="round"/>
<path d="M457.30,398.30 L457.70,398.35 L458.10,398.50 L458.50,398.75 L458.90,399.11 L459.30,399.59 L459.70,400.17 L460.10,400.87 L460.50,401.69 L460.90,402.64 L461.30,403.70 L461.70,404.88 L462.10,406.19 L462.50,407.62 L462.90,409.18 L463.30,410.84 L463.70,412.60 L464.10,414.44 L464.50,416.34 L464.90,418.29 L465.30,420.28 L465.70,422.29 L466.10,424.31 L466.50,426.32 L466.90,428.32 L467.30,430.30 L467.70,432.24 L468.10,434.15 L468.50,436.04 L468.90,437.90 L469.30,439.74 L469.70,441.57 L470.10,443.38 L470.50,445.17 L470.90,446.96 L471.30,448.74 L471.70,450.50 L472.10,452.25 L472.50,453.99 L472.90,455.70 L473.30,457.38 L473.70,459.03 L474.10,460.64 L474.50,462.20 L474.90,463.72 L475.30,465.17 L475.70,466.56 L476.10,467.88 L476.50,469.13 L476.90,470.30 L477.30,471.37 L477.70,472.36 L478.10,473.25 L478.50,474.03 L478.90,474.71 L479.30,475.28 L479.70,475.74 L480.10,476.10 L480.50,476.34 L480.90,476.47 L481.30,476.50 L481.70,476.42 L482.10,476.24 L482.50,475.96 L482.90,475.57 L483.30,475.07 L483.70,474.45 L484.10,473.71 L484.50,472.83 L484.90,471.80 L485.30,470.64 L485.70,469.34 L486.10,467.92 L486.50,466.40 L486.90,464.78 L487.30,463.09 L487.70,461.37 L488.10,459.62 L488.50,457.85 L488.90,456.05 L489.30,454.23 L489.70,452.38 L490.10,450.47 L490.50,448.50 L490.90,446.46 L491.30,444.34 L491.70,442.14 L492.10,439.87 L492.50,437.52 L492.90,435.10" fill="none" stroke="#0000ff" stroke-width="2.9" stroke-linejoin="round"/>
<path d="M492.88,267.50 L493.28,276.01 L493.68,282.82 L494.08,288.35 L494.48,292.96 L494.88,297.00 L495.28,300.76 L495.68,304.30 L496.08,307.63 L496.48,310.78 L496.88,313.76 L497.28,316.59 L497.68,319.28 L498.08,321.85 L498.48,324.31 L498.88,326.69 L499.28,329.00 L499.68,331.24 L500.08,333.41 L500.48,335.52 L500.88,337.58 L501.28,339.59 L501.68,341.54 L502.08,343.45 L502.48,345.32 L502.88,347.15 L503.28,348.94 L503.68,350.69 L504.08,352.41 L504.48,354.09 L504.88,355.74 L505.28,357.37 L505.68,358.97 L506.08,360.54 L506.48,362.09 L506.88,363.61 L507.28,365.11 L507.68,366.59 L508.08,368.04 L508.48,369.48 L508.88,370.90 L509.28,372.29 L509.68,373.67 L510.08,375.03 L510.48,376.38 L510.88,377.71 L511.28,379.02 L511.68,380.32 L512.08,381.60 L512.48,382.87 L512.88,384.12 L513.28,385.36 L513.68,386.58 L514.08,387.80 L514.48,389.00 L514.88,390.18 L515.28,391.36 L515.68,392.52 L516.08,393.68 L516.48,394.82 L516.88,395.95 L517.28,397.06 L517.68,398.17 L518.08,399.26 L518.48,400.35 L518.88,401.42 L519.28,402.49 L519.68,403.54 L520.08,404.58 L520.48,405.62 L520.88,406.64 L521.28,407.65 L521.68,408.66 L522.08,409.65 L522.48,410.63 L522.88,411.61 L523.28,412.58 L523.68,413.53 L524.08,414.48 L524.48,415.42 L524.88,416.35 L525.28,417.28 L525.68,418.19 L526.08,419.10 L526.48,420.00 L526.88,420.89 L527.28,421.77 L527.68,422.65 L528.08,423.52 L528.48,424.38 L528.88,425.24 L529.28,426.09 L529.68,426.93 L530.08,427.77 L530.48,428.60 L530.88,429.42 L531.28,430.24 L531.68,431.06 L532.08,431.87 L532.48,432.67 L532.88,433.47 L533.28,434.26 L533.68,435.04 L534.08,435.83 L534.48,436.60 L534.88,437.37 L535.28,438.13 L535.68,438.89 L536.08,439.64 L536.48,440.39 L536.88,441.12 L537.28,441.86 L537.68,442.58 L538.08,443.30 L538.48,444.01 L538.88,444.72 L539.28,445.42 L539.68,446.11 L540.08,446.80 L540.48,447.47 L540.88,448.15 L541.28,448.81 L541.68,449.47 L542.08,450.13 L542.48,450.79 L542.88,451.44 L543.28,452.08 L543.68,452.73 L544.08,453.37 L544.48,454.02 L544.88,454.66 L545.28,455.30 L545.68,455.95 L546.08,456.59 L546.48,457.23 L546.88,457.88 L547.28,458.52 L547.68,459.17 L548.08,459.81 L548.48,460.46 L548.88,461.10 L549.28,461.74 L549.68,462.38 L550.08,463.01 L550.48,463.63 L550.88,464.24 L551.28,464.84 L551.68,465.42 L552.08,465.99 L552.48,466.55 L552.88,467.09 L553.28,467.61 L553.68,468.11 L554.08,468.59 L554.48,469.06 L554.88,469.50 L555.28,469.93 L555.68,470.33 L556.08,470.72 L556.48,471.09 L556.88,471.45 L557.28,471.78 L557.68,472.11 L558.08,472.41 L558.48,472.71 L558.88,472.98 L559.28,473.25 L559.68,473.50 L560.08,473.74 L560.48,473.96 L560.88,474.18 L561.28,474.38 L561.68,474.57 L562.08,474.75 L562.48,474.92 L562.88,475.08 L563.28,475.23 L563.68,475.37 L564.08,475.50 L564.48,475.62 L564.88,475.74 L565.28,475.84 L565.68,475.94 L566.08,476.02 L566.48,476.10 L566.88,476.18 L567.28,476.24 L567.68,476.30 L568.08,476.35 L568.48,476.39 L568.88,476.42 L569.28,476.45 L569.68,476.47 L570.08,476.49 L570.48,476.50 L570.88,476.50 L571.28,476.50 L571.68,476.48 L572.08,476.47 L572.48,476.44 L572.88,476.41 L573.28,476.38 L573.68,476.33 L574.08,476.29 L574.48,476.23 L574.88,476.17 L575.28,476.10 L575.68,476.03 L576.08,475.95 L576.48,475.86 L576.88,475.77 L577.28,475.67 L577.68,475.57 L578.08,475.46 L578.48,475.34 L578.88,475.22 L579.28,475.09 L579.68,474.96 L580.08,474.81 L580.48,474.67 L580.88,474.51 L581.28,474.35 L581.68,474.18 L582.08,474.01 L582.48,473.83 L582.88,473.64 L583.28,473.45 L583.68,473.25 L584.08,473.04 L584.48,472.82 L584.88,472.60 L585.28,472.37 L585.68,472.13 L586.08,471.89 L586.48,471.63 L586.88,471.37 L587.28,471.11 L587.68,470.83 L588.08,470.55 L588.48,470.27 L588.88,469.97 L589.28,469.67 L589.68,469.37 L590.08,469.06 L590.48,468.74 L590.88,468.42 L591.28,468.09 L591.68,467.76 L592.08,467.42 L592.48,467.08 L592.88,466.74 L593.28,466.39 L593.68,466.04 L594.08,465.69 L594.48,465.34 L594.88,464.98 L595.28,464.62 L595.68,464.27 L596.08,463.91 L596.48,463.55 L596.88,463.19 L597.28,462.83 L597.68,462.48 L598.08,462.13 L598.48,461.78 L598.88,461.43 L599.28,461.08 L599.68,460.74 L600.08,460.40 L600.48,460.07 L600.88,459.74 L601.28,459.41 L601.68,459.08 L602.08,458.77 L602.48,458.45 L602.88,458.14 L603.28,457.83 L603.68,457.53 L604.08,457.23 L604.48,456.94 L604.88,456.65 L605.28,456.37 L605.68,456.09 L606.08,455.82 L606.48,455.56 L606.88,455.29 L607.28,455.04 L607.68,454.79 L608.08,454.54 L608.48,454.30 L608.88,454.07 L609.28,453.84 L609.68,453.62 L610.08,453.41 L610.48,453.20 L610.88,452.99 L611.28,452.79 L611.68,452.60 L612.08,452.42 L612.48,452.24 L612.88,452.06 L613.28,451.90 L613.68,451.73 L614.08,451.58 L614.48,451.43 L614.88,451.28 L615.28,451.15 L615.68,451.02 L616.08,450.89 L616.48,450.77 L616.88,450.66 L617.28,450.55 L617.68,450.45 L618.08,450.35 L618.48,450.26 L618.88,450.18 L619.28,450.10 L619.68,450.03 L620.08,449.96 L620.48,449.90 L620.88,449.85 L621.28,449.80 L621.68,449.75 L622.08,449.72 L622.48,449.68 L622.88,449.66 L623.28,449.63 L623.68,449.62 L624.08,449.61 L624.48,449.60 L624.88,449.60 L625.28,449.60 L625.68,449.61 L626.08,449.63 L626.48,449.65 L626.88,449.67 L627.28,449.70 L627.68,449.73 L628.08,449.77 L628.48,449.82 L628.88,449.86 L629.28,449.92 L629.68,449.98 L630.08,450.04 L630.48,450.11 L630.88,450.18 L631.28,450.26 L631.68,450.34 L632.08,450.43 L632.48,450.52 L632.88,450.62 L633.28,450.72 L633.68,450.82 L634.08,450.93 L634.48,451.05 L634.88,451.17 L635.28,451.29 L635.68,451.42 L636.08,451.55 L636.48,451.69 L636.88,451.83 L637.28,451.97 L637.68,452.12 L638.08,452.27 L638.48,452.43 L638.88,452.59 L639.28,452.75 L639.68,452.92 L640.08,453.09 L640.48,453.27 L640.88,453.45 L641.28,453.63 L641.68,453.82 L642.08,454.01 L642.48,454.20 L642.88,454.40 L643.28,454.60 L643.68,454.80 L644.08,455.01 L644.48,455.22 L644.88,455.43 L645.28,455.65 L645.68,455.87 L646.08,456.09 L646.48,456.31 L646.88,456.54 L647.28,456.77 L647.68,457.00 L648.08,457.23 L648.48,457.47 L648.88,457.71 L649.28,457.95 L649.68,458.19 L650.08,458.44 L650.48,458.69 L650.88,458.93 L651.28,459.19 L651.68,459.44 L652.08,459.69 L652.48,459.95 L652.88,460.21 L653.28,460.46 L653.68,460.72 L654.08,460.99 L654.48,461.25 L654.88,461.51 L655.28,461.78 L655.68,462.04 L656.08,462.31 L656.48,462.57 L656.88,462.84 L657.28,463.11 L657.68,463.37 L658.08,463.64 L658.48,463.91 L658.88,464.18 L659.28,464.45 L659.68,464.71 L660.08,464.98 L660.48,465.25 L660.88,465.51 L661.28,465.77 L661.68,466.04 L662.08,466.30 L662.48,466.56 L662.88,466.82 L663.28,467.08 L663.68,467.34 L664.08,467.59 L664.48,467.84 L664.88,468.09 L665.28,468.34 L665.68,468.59 L666.08,468.83 L666.48,469.08 L666.88,469.32 L667.28,469.55 L667.68,469.79 L668.08,470.02 L668.48,470.25 L668.88,470.47 L669.28,470.69 L669.68,470.91 L670.08,471.13 L670.48,471.34 L670.88,471.55 L671.28,471.75 L671.68,471.95 L672.08,472.15 L672.48,472.35 L672.88,472.54 L673.28,472.72 L673.68,472.91 L674.08,473.08 L674.48,473.26 L674.88,473.43 L675.28,473.59 L675.68,473.76 L676.08,473.91 L676.48,474.07 L676.88,474.21 L677.28,474.36 L677.68,474.50 L678.08,474.63 L678.48,474.76 L678.88,474.89 L679.28,475.01 L679.68,475.13 L680.08,475.24 L680.48,475.34 L680.88,475.45 L681.28,475.54 L681.68,475.64 L682.08,475.73 L682.48,475.81 L682.88,475.89 L683.28,475.96 L683.68,476.03 L684.08,476.09 L684.48,476.15 L684.88,476.21 L685.28,476.26 L685.68,476.30 L686.08,476.34 L686.48,476.38 L686.88,476.41 L687.28,476.44 L687.68,476.46 L688.08,476.48 L688.48,476.49 L688.88,476.50 L689.28,476.50 L689.68,476.50 L690.08,476.49 L690.48,476.48 L690.88,476.47 L691.28,476.45 L691.68,476.43 L692.08,476.40 L692.48,476.37 L692.88,476.34 L693.28,476.30 L693.68,476.25 L694.08,476.21 L694.48,476.16 L694.88,476.10 L695.28,476.04 L695.68,475.98 L696.08,475.91 L696.48,475.84 L696.88,475.77 L697.28,475.69 L697.68,475.61 L698.08,475.53 L698.48,475.44 L698.88,475.35 L699.28,475.26 L699.68,475.16 L700.08,475.06 L700.48,474.96 L700.88,474.85 L701.28,474.74 L701.68,474.63 L702.08,474.51 L702.48,474.40 L702.88,474.28 L703.28,474.15 L703.68,474.03 L704.08,473.90 L704.48,473.77 L704.88,473.64 L705.28,473.50 L705.68,473.36 L706.08,473.22 L706.48,473.08 L706.88,472.94 L707.28,472.79 L707.68,472.65 L708.08,472.50 L708.48,472.34 L708.88,472.19 L709.28,472.04 L709.68,471.88 L710.08,471.72 L710.48,471.57 L710.88,471.41 L711.28,471.24 L711.68,471.08 L712.08,470.92 L712.48,470.75 L712.88,470.59 L713.28,470.42 L713.68,470.25 L714.08,470.08 L714.48,469.92 L714.88,469.75 L715.28,469.58 L715.68,469.41 L716.08,469.23 L716.48,469.06 L716.88,468.89 L717.28,468.72 L717.68,468.55 L718.08,468.38 L718.48,468.21 L718.88,468.04 L719.28,467.86 L719.68,467.69 L720.08,467.52 L720.48,467.35 L720.88,467.18 L721.28,467.01 L721.68,466.85 L722.08,466.68 L722.48,466.51 L722.88,466.35 L723.28,466.18 L723.68,466.02 L724.08,465.86 L724.48,465.69 L724.88,465.53 L725.28,465.38 L725.68,465.22 L726.08,465.06 L726.48,464.91 L726.88,464.75 L727.28,464.60 L727.68,464.45 L728.08,464.31 L728.48,464.16 L728.88,464.02 L729.28,463.87 L729.68,463.73 L730.08,463.60 L730.48,463.46 L730.88,463.33 L731.28,463.20 L731.68,463.07 L732.08,462.94 L732.48,462.82 L732.88,462.70 L733.28,462.58 L733.68,462.46 L734.08,462.35 L734.48,462.24 L734.88,462.13 L735.28,462.03 L735.68,461.93 L736.08,461.83 L736.48,461.73 L736.88,461.64 L737.28,461.55 L737.68,461.47 L738.08,461.39 L738.48,461.31 L738.88,461.23 L739.28,461.16 L739.68,461.09 L740.08,461.03 L740.48,460.96 L740.88,460.91 L741.28,460.85 L741.68,460.80 L742.08,460.76 L742.48,460.71 L742.88,460.67 L743.28,460.64 L743.68,460.61 L744.08,460.58 L744.48,460.56 L744.88,460.54 L745.28,460.52 L745.68,460.51 L746.08,460.50 L746.48,460.50 L746.88,460.50 L747.28,460.50 L747.68,460.51 L748.08,460.52 L748.48,460.54 L748.88,460.56 L749.28,460.59 L749.68,460.61 L750.08,460.65 L750.48,460.68 L750.88,460.72 L751.28,460.76 L751.68,460.81 L752.08,460.86 L752.48,460.91 L752.88,460.97 L753.28,461.03 L753.68,461.09 L754.08,461.16 L754.48,461.23 L754.88,461.31 L755.28,461.38 L755.68,461.46 L756.08,461.55 L756.48,461.63 L756.88,461.72 L757.28,461.81 L757.68,461.91 L758.08,462.00 L758.48,462.10 L758.88,462.21 L759.28,462.31 L759.68,462.42 L760.08,462.53 L760.48,462.64 L760.88,462.76 L761.28,462.87 L761.68,462.99 L762.08,463.12 L762.48,463.24 L762.88,463.36 L763.28,463.49 L763.68,463.62 L764.08,463.75 L764.48,463.89 L764.88,464.02 L765.28,464.16 L765.68,464.30 L766.08,464.43 L766.48,464.58 L766.88,464.72 L767.28,464.86 L767.68,465.01 L768.08,465.15 L768.48,465.30 L768.88,465.45 L769.28,465.60 L769.68,465.75 L770.08,465.90 L770.48,466.05 L770.88,466.20 L771.28,466.36 L771.68,466.51 L772.08,466.66 L772.48,466.82 L772.88,466.97 L773.28,467.13 L773.68,467.28 L774.08,467.44 L774.48,467.60 L774.88,467.75 L775.28,467.91 L775.68,468.06 L776.08,468.22 L776.48,468.38 L776.88,468.53 L777.28,468.69 L777.68,468.84 L778.08,469.00 L778.48,469.15 L778.88,469.31 L779.28,469.46 L779.68,469.61 L780.08,469.77 L780.48,469.92 L780.88,470.07 L781.28,470.22 L781.68,470.37 L782.08,470.52 L782.48,470.67 L782.88,470.82 L783.28,470.97 L783.68,471.11 L784.08,471.26 L784.48,471.40 L784.88,471.55 L785.28,471.69 L785.68,471.83 L786.08,471.97 L786.48,472.11 L786.88,472.25 L787.28,472.39 L787.68,472.53 L788.08,472.66 L788.48,472.79 L788.88,472.93 L789.28,473.06 L789.68,473.19 L790.08,473.31 L790.48,473.44 L790.88,473.56 L791.28,473.69 L791.68,473.81 L792.08,473.92 L792.48,474.04 L792.88,474.16 L793.28,474.27 L793.68,474.38 L794.08,474.49 L794.48,474.60 L794.88,474.70 L795.28,474.80 L795.68,474.90 L796.08,475.00 L796.48,475.10 L796.88,475.19 L797.28,475.28 L797.68,475.37 L798.08,475.45 L798.48,475.53 L798.88,475.61 L799.28,475.69 L799.68,475.76 L800.08,475.83 L800.48,475.90 L800.88,475.96 L801.28,476.02 L801.68,476.08 L802.08,476.14 L802.48,476.19 L802.88,476.23 L803.28,476.28 L803.68,476.32 L804.08,476.35 L804.48,476.39 L804.88,476.41 L805.28,476.44 L805.68,476.46 L806.08,476.48 L806.48,476.49 L806.88,476.50 L807.28,476.50 L807.68,476.50 L808.08,476.49 L808.48,476.48 L808.88,476.47 L809.28,476.45 L809.68,476.42 L810.08,476.39 L810.48,476.36 L810.88,476.32 L811.28,476.28 L811.68,476.23 L812.08,476.17 L812.48,476.11 L812.88,476.04 L813.28,475.97 L813.68,475.89 L814.08,475.81 L814.48,475.72 L814.88,475.62 L815.28,475.52 L815.68,475.41 L816.08,475.30 L816.40,475.20" fill="none" stroke="#0000ff" stroke-width="2.9" stroke-linejoin="round"/>
</g>
<g id="axes">
<line x1="81.02" y1="224.7" x2="81.02" y2="226.7" stroke="#000" stroke-width="0.5"/>
<line x1="98.94" y1="224.7" x2="98.94" y2="226.7" stroke="#000" stroke-width="0.5"/>
<line x1="116.86" y1="224.7" x2="116.86" y2="226.7" stroke="#000" stroke-width="0.5"/>
<line x1="134.78" y1="224.7" x2="134.78" y2="226.7" stroke="#000" stroke-width="0.5"/>
<line x1="152.7" y1="223.8" x2="152.7" y2="226.7" stroke="#000" stroke-width="0.5"/>
<line x1="170.62" y1="224.7" x2="170.62" y2="226.7" stroke="#000" stroke-width="0.5"/>
<line x1="188.54" y1="224.7" x2="188.54" y2="226.7" stroke="#000" stroke-width="0.5"/>
<line x1="206.46" y1="224.7" x2="206.46" y2="226.7" stroke="#000" stroke-width="0.5"/>
<line x1="224.38" y1="224.7" x2="224.38" y2="226.7" stroke="#000" stroke-width="0.5"/>
<line x1="242.3" y1="223.8" x2="242.3" y2="226.7" stroke="#000" stroke-width="0.5"/>
<line x1="260.22" y1="224.7" x2="260.22" y2="226.7" stroke="#000" stroke-width="0.5"/>
<line x1="278.14" y1="224.7" x2="278.14" y2="226.7" stroke="#000" stroke-width="0.5"/>
<line x1="296.06" y1="224.7" x2="296.06" y2="226.7" stroke="#000" stroke-width="0.5"/>
<line x1="313.98" y1="224.7" x2="313.98" y2="226.7" stroke="#000" stroke-width="0.5"/>
<line x1="331.9" y1="223.8" x2="331.9" y2="226.7" stroke="#000" stroke-width="0.5"/>
<line x1="349.82" y1="224.7" x2="349.82" y2="226.7" stroke="#000" stroke-width="0.5"/>
<line x1="367.74" y1="224.7" x2="367.74" y2="226.7" stroke="#000" stroke-width="0.5"/>
<line x1="385.66" y1="224.7" x2="385.66" y2="226.7" stroke="#000" stroke-width="0.5"/>
<line x1="403.58" y1="224.7" x2="403.58" y2="226.7" stroke="#000" stroke-width="0.5"/>
<line x1="421.5" y1="223.8" x2="421.5" y2="226.7" stroke="#000" stroke-width="0.5"/>
<line x1="63.1" y1="220.81" x2="65.1" y2="220.81" stroke="#000" stroke-width="0.5"/>
<line x1="63.1" y1="214.92" x2="65.1" y2="214.92" stroke="#000" stroke-width="0.5"/>
<line x1="63.1" y1="209.03" x2="65.1" y2="209.03" stroke="#000" stroke-width="0.5"/>
<line x1="63.1" y1="203.14" x2="65.1" y2="203.14" stroke="#000" stroke-width="0.5"/>
<line x1="63.1" y1="197.25" x2="66.1" y2="197.25" stroke="#000" stroke-width="0.5"/>
<line x1="63.1" y1="191.36" x2="65.1" y2="191.36" stroke="#000" stroke-width="0.5"/>
<line x1="63.1" y1="185.47" x2="65.1" y2="185.47" stroke="#000" stroke-width="0.5"/>
<line x1="63.1" y1="179.58" x2="65.1" y2="179.58" stroke="#000" stroke-width="0.5"/>
<line x1="63.1" y1="173.69" x2="65.1" y2="173.69" stroke="#000" stroke-width="0.5"/>
<line x1="63.1" y1="167.8" x2="66.1" y2="167.8" stroke="#000" stroke-width="0.5"/>
<line x1="63.1" y1="161.91" x2="65.1" y2="161.91" stroke="#000" stroke-width="0.5"/>
<line x1="63.1" y1="156.02" x2="65.1" y2="156.02" stroke="#000" stroke-width="0.5"/>
<line x1="63.1" y1="150.13" x2="65.1" y2="150.13" stroke="#000" stroke-width="0.5"/>
<line x1="63.1" y1="144.24" x2="65.1" y2="144.24" stroke="#000" stroke-width="0.5"/>
<line x1="63.1" y1="138.35" x2="66.1" y2="138.35" stroke="#000" stroke-width="0.5"/>
<line x1="63.1" y1="132.46" x2="65.1" y2="132.46" stroke="#000" stroke-width="0.5"/>
<line x1="63.1" y1="126.57" x2="65.1" y2="126.57" stroke="#000" stroke-width="0.5"/>
<line x1="63.1" y1="120.68" x2="65.1" y2="120.68" stroke="#000" stroke-width="0.5"/>
<line x1="63.1" y1="114.79" x2="65.1" y2="114.79" stroke="#000" stroke-width="0.5"/>
<line x1="63.1" y1="108.9" x2="66.1" y2="108.9" stroke="#000" stroke-width="0.5"/>
<line x1="63.1" y1="103.01" x2="65.1" y2="103.01" stroke="#000" stroke-width="0.5"/>
<line x1="63.1" y1="97.12" x2="65.1" y2="97.12" stroke="#000" stroke-width="0.5"/>
<line x1="63.1" y1="91.23" x2="65.1" y2="91.23" stroke="#000" stroke-width="0.5"/>
<line x1="63.1" y1="85.34" x2="65.1" y2="85.34" stroke="#000" stroke-width="0.5"/>
<line x1="63.1" y1="79.45" x2="66.1" y2="79.45" stroke="#000" stroke-width="0.5"/>
<line x1="63.1" y1="73.56" x2="65.1" y2="73.56" stroke="#000" stroke-width="0.5"/>
<line x1="63.1" y1="67.67" x2="65.1" y2="67.67" stroke="#000" stroke-width="0.5"/>
<line x1="63.1" y1="61.78" x2="65.1" y2="61.78" stroke="#000" stroke-width="0.5"/>
<line x1="63.1" y1="55.89" x2="65.1" y2="55.89" stroke="#000" stroke-width="0.5"/>
<line x1="63.1" y1="50.0" x2="66.1" y2="50.0" stroke="#000" stroke-width="0.5"/>
<line x1="63.1" y1="44.11" x2="65.1" y2="44.11" stroke="#000" stroke-width="0.5"/>
<line x1="63.1" y1="38.22" x2="65.1" y2="38.22" stroke="#000" stroke-width="0.5"/>
<line x1="63.1" y1="32.33" x2="65.1" y2="32.33" stroke="#000" stroke-width="0.5"/>
<line x1="63.1" y1="26.44" x2="65.1" y2="26.44" stroke="#000" stroke-width="0.5"/>
<line x1="63.1" y1="20.55" x2="66.1" y2="20.55" stroke="#000" stroke-width="0.5"/>
<line x1="63.1" y1="14.66" x2="65.1" y2="14.66" stroke="#000" stroke-width="0.5"/>
<line x1="63.1" y1="8.77" x2="65.1" y2="8.77" stroke="#000" stroke-width="0.5"/>
<line x1="63.1" y1="7.5" x2="63.1" y2="237.6" stroke="#000" stroke-width="1.8"/>
<line x1="55.2" y1="226.7" x2="429" y2="226.7" stroke="#000" stroke-width="1.8"/>
<line x1="475.02" y1="224.75" x2="475.02" y2="226.75" stroke="#000" stroke-width="0.5"/>
<line x1="492.94" y1="224.75" x2="492.94" y2="226.75" stroke="#000" stroke-width="0.5"/>
<line x1="510.86" y1="224.75" x2="510.86" y2="226.75" stroke="#000" stroke-width="0.5"/>
<line x1="528.78" y1="224.75" x2="528.78" y2="226.75" stroke="#000" stroke-width="0.5"/>
<line x1="546.7" y1="223.85" x2="546.7" y2="226.75" stroke="#000" stroke-width="0.5"/>
<line x1="564.62" y1="224.75" x2="564.62" y2="226.75" stroke="#000" stroke-width="0.5"/>
<line x1="582.54" y1="224.75" x2="582.54" y2="226.75" stroke="#000" stroke-width="0.5"/>
<line x1="600.46" y1="224.75" x2="600.46" y2="226.75" stroke="#000" stroke-width="0.5"/>
<line x1="618.38" y1="224.75" x2="618.38" y2="226.75" stroke="#000" stroke-width="0.5"/>
<line x1="636.3" y1="223.85" x2="636.3" y2="226.75" stroke="#000" stroke-width="0.5"/>
<line x1="654.22" y1="224.75" x2="654.22" y2="226.75" stroke="#000" stroke-width="0.5"/>
<line x1="672.14" y1="224.75" x2="672.14" y2="226.75" stroke="#000" stroke-width="0.5"/>
<line x1="690.06" y1="224.75" x2="690.06" y2="226.75" stroke="#000" stroke-width="0.5"/>
<line x1="707.98" y1="224.75" x2="707.98" y2="226.75" stroke="#000" stroke-width="0.5"/>
<line x1="725.9" y1="223.85" x2="725.9" y2="226.75" stroke="#000" stroke-width="0.5"/>
<line x1="743.82" y1="224.75" x2="743.82" y2="226.75" stroke="#000" stroke-width="0.5"/>
<line x1="761.74" y1="224.75" x2="761.74" y2="226.75" stroke="#000" stroke-width="0.5"/>
<line x1="779.66" y1="224.75" x2="779.66" y2="226.75" stroke="#000" stroke-width="0.5"/>
<line x1="797.58" y1="224.75" x2="797.58" y2="226.75" stroke="#000" stroke-width="0.5"/>
<line x1="815.5" y1="223.85" x2="815.5" y2="226.75" stroke="#000" stroke-width="0.5"/>
<line x1="457.1" y1="215.86" x2="459.1" y2="215.86" stroke="#000" stroke-width="0.5"/>
<line x1="457.1" y1="204.97" x2="459.1" y2="204.97" stroke="#000" stroke-width="0.5"/>
<line x1="457.1" y1="194.09" x2="459.1" y2="194.09" stroke="#000" stroke-width="0.5"/>
<line x1="457.1" y1="183.2" x2="460.1" y2="183.2" stroke="#000" stroke-width="0.5"/>
<line x1="457.1" y1="172.31" x2="459.1" y2="172.31" stroke="#000" stroke-width="0.5"/>
<line x1="457.1" y1="161.43" x2="459.1" y2="161.43" stroke="#000" stroke-width="0.5"/>
<line x1="457.1" y1="150.54" x2="459.1" y2="150.54" stroke="#000" stroke-width="0.5"/>
<line x1="457.1" y1="139.65" x2="460.1" y2="139.65" stroke="#000" stroke-width="0.5"/>
<line x1="457.1" y1="128.76" x2="459.1" y2="128.76" stroke="#000" stroke-width="0.5"/>
<line x1="457.1" y1="117.88" x2="459.1" y2="117.88" stroke="#000" stroke-width="0.5"/>
<line x1="457.1" y1="106.99" x2="459.1" y2="106.99" stroke="#000" stroke-width="0.5"/>
<line x1="457.1" y1="96.1" x2="460.1" y2="96.1" stroke="#000" stroke-width="0.5"/>
<line x1="457.1" y1="85.21" x2="459.1" y2="85.21" stroke="#000" stroke-width="0.5"/>
<line x1="457.1" y1="74.33" x2="459.1" y2="74.33" stroke="#000" stroke-width="0.5"/>
<line x1="457.1" y1="63.44" x2="459.1" y2="63.44" stroke="#000" stroke-width="0.5"/>
<line x1="457.1" y1="52.55" x2="460.1" y2="52.55" stroke="#000" stroke-width="0.5"/>
<line x1="457.1" y1="41.66" x2="459.1" y2="41.66" stroke="#000" stroke-width="0.5"/>
<line x1="457.1" y1="30.78" x2="459.1" y2="30.78" stroke="#000" stroke-width="0.5"/>
<line x1="457.1" y1="19.89" x2="459.1" y2="19.89" stroke="#000" stroke-width="0.5"/>
<line x1="457.1" y1="9.0" x2="460.1" y2="9.0" stroke="#000" stroke-width="0.5"/>
<line x1="457.1" y1="8" x2="457.1" y2="237.5" stroke="#000" stroke-width="1.8"/>
<line x1="455.6" y1="226.75" x2="830" y2="226.75" stroke="#000" stroke-width="1.8"/>
<line x1="79.13" y1="475.8" x2="79.13" y2="477.8" stroke="#000" stroke-width="0.5"/>
<line x1="97.16" y1="475.8" x2="97.16" y2="477.8" stroke="#000" stroke-width="0.5"/>
<line x1="115.19" y1="475.8" x2="115.19" y2="477.8" stroke="#000" stroke-width="0.5"/>
<line x1="133.22" y1="475.8" x2="133.22" y2="477.8" stroke="#000" stroke-width="0.5"/>
<line x1="151.25" y1="474.9" x2="151.25" y2="477.8" stroke="#000" stroke-width="0.5"/>
<line x1="169.28" y1="475.8" x2="169.28" y2="477.8" stroke="#000" stroke-width="0.5"/>
<line x1="187.31" y1="475.8" x2="187.31" y2="477.8" stroke="#000" stroke-width="0.5"/>
<line x1="205.34" y1="475.8" x2="205.34" y2="477.8" stroke="#000" stroke-width="0.5"/>
<line x1="223.37" y1="475.8" x2="223.37" y2="477.8" stroke="#000" stroke-width="0.5"/>
<line x1="241.4" y1="474.9" x2="241.4" y2="477.8" stroke="#000" stroke-width="0.5"/>
<line x1="259.43" y1="475.8" x2="259.43" y2="477.8" stroke="#000" stroke-width="0.5"/>
<line x1="277.46" y1="475.8" x2="277.46" y2="477.8" stroke="#000" stroke-width="0.5"/>
<line x1="295.49" y1="475.8" x2="295.49" y2="477.8" stroke="#000" stroke-width="0.5"/>
<line x1="313.52" y1="475.8" x2="313.52" y2="477.8" stroke="#000" stroke-width="0.5"/>
<line x1="331.55" y1="474.9" x2="331.55" y2="477.8" stroke="#000" stroke-width="0.5"/>
<line x1="349.58" y1="475.8" x2="349.58" y2="477.8" stroke="#000" stroke-width="0.5"/>
<line x1="367.61" y1="475.8" x2="367.61" y2="477.8" stroke="#000" stroke-width="0.5"/>
<line x1="385.64" y1="475.8" x2="385.64" y2="477.8" stroke="#000" stroke-width="0.5"/>
<line x1="403.67" y1="475.8" x2="403.67" y2="477.8" stroke="#000" stroke-width="0.5"/>
<line x1="421.7" y1="474.9" x2="421.7" y2="477.8" stroke="#000" stroke-width="0.5"/>
<line x1="61.1" y1="470.82" x2="63.1" y2="470.82" stroke="#000" stroke-width="0.5"/>
<line x1="61.1" y1="463.84" x2="63.1" y2="463.84" stroke="#000" stroke-width="0.5"/>
<line x1="61.1" y1="456.86" x2="63.1" y2="456.86" stroke="#000" stroke-width="0.5"/>
<line x1="61.1" y1="449.88" x2="63.1" y2="449.88" stroke="#000" stroke-width="0.5"/>
<line x1="61.1" y1="442.9" x2="64.1" y2="442.9" stroke="#000" stroke-width="0.5"/>
<line x1="61.1" y1="435.92" x2="63.1" y2="435.92" stroke="#000" stroke-width="0.5"/>
<line x1="61.1" y1="428.94" x2="63.1" y2="428.94" stroke="#000" stroke-width="0.5"/>
<line x1="61.1" y1="421.96" x2="63.1" y2="421.96" stroke="#000" stroke-width="0.5"/>
<line x1="61.1" y1="414.98" x2="63.1" y2="414.98" stroke="#000" stroke-width="0.5"/>
<line x1="61.1" y1="408.0" x2="64.1" y2="408.0" stroke="#000" stroke-width="0.5"/>
<line x1="61.1" y1="401.02" x2="63.1" y2="401.02" stroke="#000" stroke-width="0.5"/>
<line x1="61.1" y1="394.04" x2="63.1" y2="394.04" stroke="#000" stroke-width="0.5"/>
<line x1="61.1" y1="387.06" x2="63.1" y2="387.06" stroke="#000" stroke-width="0.5"/>
<line x1="61.1" y1="380.08" x2="63.1" y2="380.08" stroke="#000" stroke-width="0.5"/>
<line x1="61.1" y1="373.1" x2="64.1" y2="373.1" stroke="#000" stroke-width="0.5"/>
<line x1="61.1" y1="366.12" x2="63.1" y2="366.12" stroke="#000" stroke-width="0.5"/>
<line x1="61.1" y1="359.14" x2="63.1" y2="359.14" stroke="#000" stroke-width="0.5"/>
<line x1="61.1" y1="352.16" x2="63.1" y2="352.16" stroke="#000" stroke-width="0.5"/>
<line x1="61.1" y1="345.18" x2="63.1" y2="345.18" stroke="#000" stroke-width="0.5"/>
<line x1="61.1" y1="338.2" x2="64.1" y2="338.2" stroke="#000" stroke-width="0.5"/>
<line x1="61.1" y1="331.22" x2="63.1" y2="331.22" stroke="#000" stroke-width="0.5"/>
<line x1="61.1" y1="324.24" x2="63.1" y2="324.24" stroke="#000" stroke-width="0.5"/>
<line x1="61.1" y1="317.26" x2="63.1" y2="317.26" stroke="#000" stroke-width="0.5"/>
<line x1="61.1" y1="310.28" x2="63.1" y2="310.28" stroke="#000" stroke-width="0.5"/>
<line x1="61.1" y1="303.3" x2="64.1" y2="303.3" stroke="#000" stroke-width="0.5"/>
<line x1="61.1" y1="296.32" x2="63.1" y2="296.32" stroke="#000" stroke-width="0.5"/>
<line x1="61.1" y1="289.34" x2="63.1" y2="289.34" stroke="#000" stroke-width="0.5"/>
<line x1="61.1" y1="282.36" x2="63.1" y2="282.36" stroke="#000" stroke-width="0.5"/>
<line x1="61.1" y1="275.38" x2="63.1" y2="275.38" stroke="#000" stroke-width="0.5"/>
<line x1="61.1" y1="268.4" x2="64.1" y2="268.4" stroke="#000" stroke-width="0.5"/>
<line x1="61.1" y1="261.42" x2="63.1" y2="261.42" stroke="#000" stroke-width="0.5"/>
<line x1="61.1" y1="257" x2="61.1" y2="489.7" stroke="#000" stroke-width="1.8"/>
<line x1="53.6" y1="477.8" x2="429.9" y2="477.8" stroke="#000" stroke-width="1.8"/>
<line x1="475.37" y1="474.5" x2="475.37" y2="476.5" stroke="#000" stroke-width="0.5"/>
<line x1="493.24" y1="474.5" x2="493.24" y2="476.5" stroke="#000" stroke-width="0.5"/>
<line x1="511.11" y1="474.5" x2="511.11" y2="476.5" stroke="#000" stroke-width="0.5"/>
<line x1="528.98" y1="474.5" x2="528.98" y2="476.5" stroke="#000" stroke-width="0.5"/>
<line x1="546.85" y1="473.6" x2="546.85" y2="476.5" stroke="#000" stroke-width="0.5"/>
<line x1="564.72" y1="474.5" x2="564.72" y2="476.5" stroke="#000" stroke-width="0.5"/>
<line x1="582.59" y1="474.5" x2="582.59" y2="476.5" stroke="#000" stroke-width="0.5"/>
<line x1="600.46" y1="474.5" x2="600.46" y2="476.5" stroke="#000" stroke-width="0.5"/>
<line x1="618.33" y1="474.5" x2="618.33" y2="476.5" stroke="#000" stroke-width="0.5"/>
<line x1="636.2" y1="473.6" x2="636.2" y2="476.5" stroke="#000" stroke-width="0.5"/>
<line x1="654.07" y1="474.5" x2="654.07" y2="476.5" stroke="#000" stroke-width="0.5"/>
<line x1="671.94" y1="474.5" x2="671.94" y2="476.5" stroke="#000" stroke-width="0.5"/>
<line x1="689.81" y1="474.5" x2="689.81" y2="476.5" stroke="#000" stroke-width="0.5"/>
<line x1="707.68" y1="474.5" x2="707.68" y2="476.5" stroke="#000" stroke-width="0.5"/>
<line x1="725.55" y1="473.6" x2="725.55" y2="476.5" stroke="#000" stroke-width="0.5"/>
<line x1="743.42" y1="474.5" x2="743.42" y2="476.5" stroke="#000" stroke-width="0.5"/>
<line x1="761.29" y1="474.5" x2="761.29" y2="476.5" stroke="#000" stroke-width="0.5"/>
<line x1="779.16" y1="474.5" x2="779.16" y2="476.5" stroke="#000" stroke-width="0.5"/>
<line x1="797.03" y1="474.5" x2="797.03" y2="476.5" stroke="#000" stroke-width="0.5"/>
<line x1="814.9" y1="473.6" x2="814.9" y2="476.5" stroke="#000" stroke-width="0.5"/>
<line x1="457.5" y1="468.75" x2="459.5" y2="468.75" stroke="#000" stroke-width="0.5"/>
<line x1="457.5" y1="461.0" x2="459.5" y2="461.0" stroke="#000" stroke-width="0.5"/>
<line x1="457.5" y1="453.25" x2="459.5" y2="453.25" stroke="#000" stroke-width="0.5"/>
<line x1="457.5" y1="445.5" x2="459.5" y2="445.5" stroke="#000" stroke-width="0.5"/>
<line x1="457.5" y1="437.75" x2="460.5" y2="437.75" stroke="#000" stroke-width="0.5"/>
<line x1="457.5" y1="430.0" x2="459.5" y2="430.0" stroke="#000" stroke-width="0.5"/>
<line x1="457.5" y1="422.25" x2="459.5" y2="422.25" stroke="#000" stroke-width="0.5"/>
<line x1="457.5" y1="414.5" x2="459.5" y2="414.5" stroke="#000" stroke-width="0.5"/>
<line x1="457.5" y1="406.75" x2="459.5" y2="406.75" stroke="#000" stroke-width="0.5"/>
<line x1="457.5" y1="399.0" x2="460.5" y2="399.0" stroke="#000" stroke-width="0.5"/>
<line x1="457.5" y1="391.25" x2="459.5" y2="391.25" stroke="#000" stroke-width="0.5"/>
<line x1="457.5" y1="383.5" x2="459.5" y2="383.5" stroke="#000" stroke-width="0.5"/>
<line x1="457.5" y1="375.75" x2="459.5" y2="375.75" stroke="#000" stroke-width="0.5"/>
<line x1="457.5" y1="368.0" x2="459.5" y2="368.0" stroke="#000" stroke-width="0.5"/>
<line x1="457.5" y1="360.25" x2="460.5" y2="360.25" stroke="#000" stroke-width="0.5"/>
<line x1="457.5" y1="352.5" x2="459.5" y2="352.5" stroke="#000" stroke-width="0.5"/>
<line x1="457.5" y1="344.75" x2="459.5" y2="344.75" stroke="#000" stroke-width="0.5"/>
<line x1="457.5" y1="337.0" x2="459.5" y2="337.0" stroke="#000" stroke-width="0.5"/>
<line x1="457.5" y1="329.25" x2="459.5" y2="329.25" stroke="#000" stroke-width="0.5"/>
<line x1="457.5" y1="321.5" x2="460.5" y2="321.5" stroke="#000" stroke-width="0.5"/>
<line x1="457.5" y1="313.75" x2="459.5" y2="313.75" stroke="#000" stroke-width="0.5"/>
<line x1="457.5" y1="306.0" x2="459.5" y2="306.0" stroke="#000" stroke-width="0.5"/>
<line x1="457.5" y1="298.25" x2="459.5" y2="298.25" stroke="#000" stroke-width="0.5"/>
<line x1="457.5" y1="290.5" x2="459.5" y2="290.5" stroke="#000" stroke-width="0.5"/>
<line x1="457.5" y1="282.75" x2="460.5" y2="282.75" stroke="#000" stroke-width="0.5"/>
<line x1="457.5" y1="275.0" x2="459.5" y2="275.0" stroke="#000" stroke-width="0.5"/>
<line x1="457.5" y1="267.25" x2="459.5" y2="267.25" stroke="#000" stroke-width="0.5"/>
<line x1="457.5" y1="259.5" x2="459.5" y2="259.5" stroke="#000" stroke-width="0.5"/>
<line x1="457.5" y1="257.4" x2="457.5" y2="488" stroke="#000" stroke-width="1.8"/>
<line x1="449.4" y1="476.5" x2="822.5" y2="476.5" stroke="#000" stroke-width="1.8"/>
<line x1="579" y1="64" x2="619" y2="64" stroke="#0000ff" stroke-width="1.7"/>
<line x1="579" y1="80.6" x2="619" y2="80.6" stroke="#ff0000" stroke-width="1.5" stroke-dasharray="6.3 6.5"/>
<line x1="0.5" y1="30.6" x2="0.5" y2="50.7" stroke="#000" stroke-width="0.9"/>
<line x1="27.5" y1="30.6" x2="27.5" y2="50.7" stroke="#000" stroke-width="0.9"/>
<line x1="393.5" y1="40.1" x2="393.5" y2="60.2" stroke="#000" stroke-width="0.9"/>
<line x1="421.5" y1="40.1" x2="421.5" y2="60.2" stroke="#000" stroke-width="0.9"/>
<line x1="4.5" y1="285" x2="4.5" y2="307" stroke="#000" stroke-width="0.9"/>
<line x1="38.5" y1="284.5" x2="38.5" y2="304.6" stroke="#000" stroke-width="0.9"/>
<line x1="380.5" y1="289.1" x2="380.5" y2="309.3" stroke="#000" stroke-width="0.9"/>
<line x1="408.5" y1="289.1" x2="408.5" y2="309.3" stroke="#000" stroke-width="0.9"/>
</g>
<g id="labels" fill="#000">
<text x="633.33" y="64.95" class="t" font-size="16.5">interacting</text>
<text x="633.64" y="84.95" class="t" font-size="16.5">noninteracting</text>
<text x="37.53" y="23.85" class="t" font-size="16.5">3.5</text>
<text x="41.16" y="53.45" class="t" font-size="16.5">3.0</text>
<text x="38.05" y="81.85" class="t" font-size="16.5">2.5</text>
<text x="38.28" y="107.55" class="t" font-size="16.5">2.0</text>
<text x="37.85" y="139.85" class="t" font-size="16.5">1.5</text>
<text x="35.27" y="169.64" class="s" font-size="16.5">1.0</text>
<text x="38.11" y="199.85" class="t" font-size="16.5">0.5</text>
<text x="149.22" y="241.24" class="s" font-size="16.5">5</text>
<text x="238.88" y="244.34" class="s" font-size="16.5">10</text>
<text x="327.85" y="242.84" class="s" font-size="16.5">15</text>
<text x="416.94" y="243.44" class="s" font-size="16.5">20</text>
<text x="434.92" y="11.43" class="s" font-size="17.3">10</text>
<text x="432.54" y="55.44" class="t" font-size="17.3">0.8</text>
<text x="430.87" y="98.84" class="t" font-size="17.3">0.6</text>
<text x="430.89" y="142.64" class="t" font-size="17.3">0.4</text>
<text x="432.74" y="186.14" class="t" font-size="17.3">0.2</text>
<text x="543.07" y="244.53" class="t" font-size="17.3">5</text>
<text x="635.92" y="244.03" class="s" font-size="17.3">10</text>
<text x="721.45" y="242.83" class="s" font-size="17.3">15</text>
<text x="810.49" y="242.03" class="s" font-size="17.3">20</text>
<text x="48.27" y="273.93" class="s" font-size="17">6</text>
<text x="48.05" y="308.03" class="t" font-size="17">5</text>
<text x="47.18" y="342.3" class="s" font-size="17">4</text>
<text x="48.53" y="376.73" class="s" font-size="17">3</text>
<text x="46.43" y="411.6" class="s" font-size="17">2</text>
<text x="47.75" y="445.8" class="s" font-size="17">1</text>
<text x="147.65" y="493.83" class="t" font-size="17">5</text>
<text x="236.72" y="492.83" class="t" font-size="17">10</text>
<text x="326.6" y="493.23" class="t" font-size="17">15</text>
<text x="416.79" y="493.83" class="t" font-size="17">20</text>
<text x="429.25" y="285.93" class="s" font-size="17">2.5</text>
<text x="429.08" y="324.73" class="s" font-size="17">2.0</text>
<text x="430.29" y="363.53" class="s" font-size="17">1.5</text>
<text x="430.27" y="401.73" class="s" font-size="17">1.0</text>
<text x="428.18" y="440.43" class="s" font-size="17">0.5</text>
<text x="544.65" y="492.23" class="t" font-size="17">5</text>
<text x="633.23" y="491.83" class="t" font-size="17">10</text>
<text x="721.45" y="493.03" class="t" font-size="17">15</text>
<text x="811.04" y="492.53" class="t" font-size="17">20</text>
<text x="287.5" y="254.5" class="i" font-size="32" textLength="13.95" lengthAdjust="spacingAndGlyphs" stroke="#fff" stroke-width="0.45">r</text>
<text x="673.1" y="256.8" class="i" font-size="32" textLength="13.95" lengthAdjust="spacingAndGlyphs" stroke="#fff" stroke-width="0.45">r</text>
<text x="285.2" y="504.1" class="i" font-size="32" textLength="13.95" lengthAdjust="spacingAndGlyphs" stroke="#fff" stroke-width="0.45">r</text>
<text x="675.6" y="504.1" class="i" font-size="32" textLength="13.95" lengthAdjust="spacingAndGlyphs" stroke="#fff" stroke-width="0.45">r</text>
<text x="3.48" y="45.94" class="i" font-size="20.06" textLength="12.05" lengthAdjust="spacingAndGlyphs" stroke="#fff" stroke-width="0.25">&#981;</text>
<text x="15.99" y="49.55" class="t" font-size="15.02">3</text>
<text x="31.16" y="38.9" class="t" font-size="13.43">2</text>
<text x="396.97" y="55.46" class="i" font-size="19.94" textLength="12.16" lengthAdjust="spacingAndGlyphs" stroke="#fff" stroke-width="0.25">&#981;</text>
<text x="409.47" y="59.04" class="t" font-size="15.7">8</text>
<text x="424.55" y="48.6" class="t" font-size="15.09">2</text>
<text x="11.32" y="302.09" class="i" font-size="21.71" textLength="13.36" lengthAdjust="spacingAndGlyphs" stroke="#fff" stroke-width="0.25">&#981;</text>
<text x="25.97" y="305.0" class="t" font-size="15.36">4</text>
<text x="42.02" y="292.9" class="t" font-size="14.19">2</text>
<text x="384.1" y="304.44" class="i" font-size="20.5" textLength="11.50" lengthAdjust="spacingAndGlyphs" stroke="#fff" stroke-width="0.25">&#981;</text>
<text x="396.28" y="307.8" class="t" font-size="15.42">7</text>
<text x="411.55" y="297.2" class="t" font-size="14.49">2</text>
</g>
</svg>
</body></html>
